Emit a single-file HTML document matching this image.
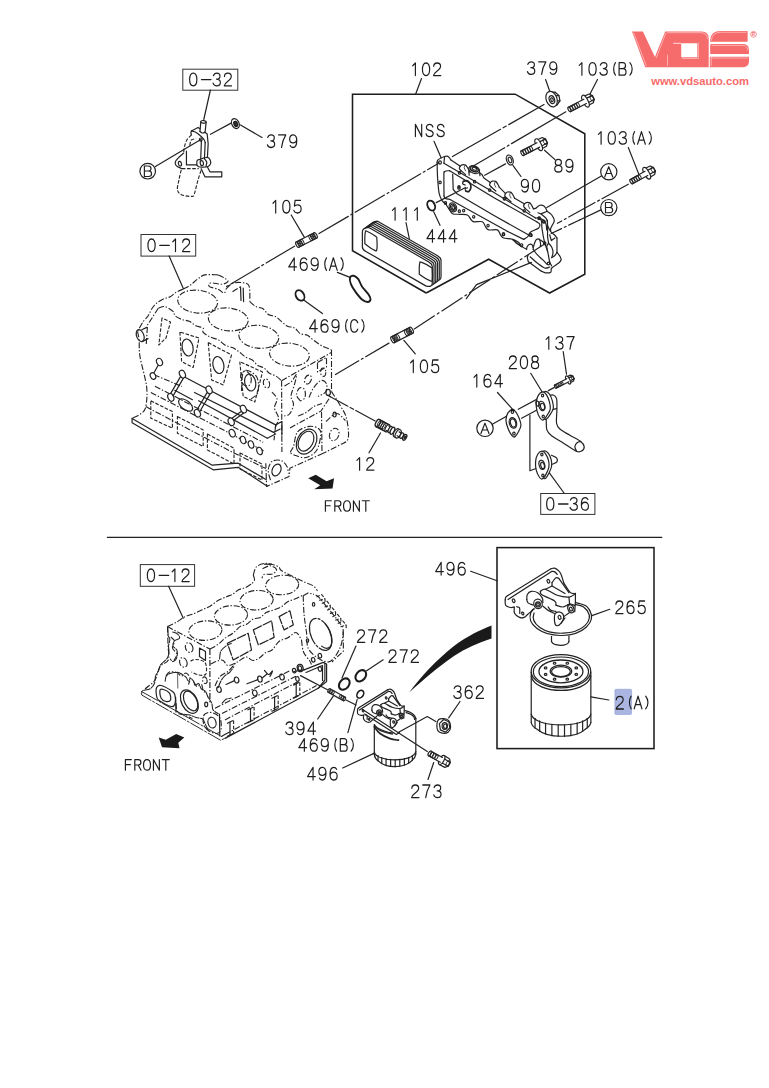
<!DOCTYPE html>
<html><head><meta charset="utf-8"><title>diagram</title>
<style>
html,body{margin:0;padding:0;background:#fff;}
body{width:769px;height:1088px;overflow:hidden;font-family:"Liberation Sans",sans-serif;}
svg{display:block}
.l{fill:none;stroke:#222;stroke-width:1.2;stroke-linecap:round;stroke-linejoin:round}
.w{fill:#fff;stroke:#222;stroke-width:1.2;stroke-linecap:round;stroke-linejoin:round}
.h{fill:none;stroke:#1c1c1c;stroke-width:1.9;stroke-linecap:round;stroke-linejoin:round}
.p{fill:none;stroke:#242424;stroke-width:1.12;stroke-dasharray:6 1.8 1.4 1.8;stroke-linejoin:round}
.d{fill:none;stroke:#242424;stroke-width:1.12;stroke-dasharray:3.6 1.6;stroke-linejoin:round}
.c{fill:none;stroke:#262626;stroke-width:1;stroke-dasharray:26 3 2 3}
.b{fill:none;stroke:#1c1c1c;stroke-width:1.55}
.bx{fill:none;stroke:#333;stroke-width:1}
.t{fill:none;stroke:#1e1e1e;stroke-linecap:round;stroke-linejoin:round}
.k{fill:#1a1a1a;stroke:none}
</style></head><body>
<svg width="769" height="1088" viewBox="0 0 769 1088">
<path fill="#f66b6b" fill-rule="evenodd" d="M632,31.5 L642.9,31.5 L654.9,56.9 L665.2,31.5 L701.5,31.5 Q708.7,31.5 708.7,38.7 L708.7,67.3 L645.2,67.3 Z M681.2,43.3 L697.3,43.3 L697.3,57.3 L681.2,57.3 Z"/>
<path fill="#f66b6b" d="M747.6,31 L747.6,41.8 L710.2,41.8 L710.2,40 Q710.6,31 720.5,31 Z"/>
<path fill="#f66b6b" d="M711.2,44.1 L743.5,44.1 Q749,44.6 749,50.5 L749,54 L710.2,54 L710.2,45.1 Q710.2,44.1 711.2,44.1 Z"/>
<path fill="#f66b6b" d="M709.8,56.8 L749,56.8 L749,61.8 Q748.6,67.2 743,67.2 L709.8,67.2 Z"/>
<g fill="none" stroke="#fff" stroke-width=".55" stroke-opacity=".85"><path d="M633.6,32.8 L646.4,66"/><path d="M665.9,32.9 L656.1,58.2"/><path d="M667.5,54.6 L667.5,66.2"/><path d="M673.2,43.3 L681.2,43.3" stroke-width=".9"/><path d="M698.4,42.4 L698.4,58.4 L682,58.4"/><path d="M667,32.7 L701,32.7 Q707.4,33 707.5,39"/><path d="M711.4,40.6 Q711.8,32.4 720.5,32.3 L746.4,32.3"/><path d="M711.4,45.4 L743,45.4 Q747.6,45.8 747.8,50.5"/><path d="M711,58 L747.8,58"/><path d="M711.2,56.4 L711.2,66"/></g>
<circle cx="753.5" cy="34.3" r="2.9" fill="none" stroke="#f66b6b" stroke-width=".7"/>
<text x="753.5" y="36.0" font-size="4.6" font-weight="bold" text-anchor="middle" fill="#f66b6b" font-family="Liberation Sans, sans-serif">R</text>
<text x="651.2" y="84.6" font-size="11.4" font-weight="bold" fill="#f66b6b" textLength="97.8" lengthAdjust="spacingAndGlyphs" font-family="Liberation Sans, sans-serif">www.vdsauto.com</text>
<rect class="bx" x="182.8" y="69.2" width="55.0" height="21"/>
<g class="t" style="stroke-width:1.3"><path transform="translate(189.20,73.20) scale(0.900,0.969)" d="M4.5,0 C1.8,0 0.5,2.6 0.5,6.5 C0.5,10.4 1.8,13 4.5,13 C7.2,13 8.5,10.4 8.5,6.5 C8.5,2.6 7.2,0 4.5,0 Z"/><path transform="translate(200.30,73.20) scale(0.900,0.969)" d="M1.3,6.6 L11.9,6.6"/><path transform="translate(212.70,73.20) scale(0.900,0.969)" d="M0.8,2.6 C1.4,0.9 2.8,0 4.5,0 C6.7,0 8.1,1.3 8.1,3.1 C8.1,5 6.6,6.1 4.2,6.1 C6.9,6.1 8.5,7.4 8.5,9.5 C8.5,11.6 6.9,13 4.5,13 C2.4,13 1,12 0.4,10.2"/><path transform="translate(223.80,73.20) scale(0.900,0.969)" d="M0.7,3.4 C0.8,1.2 2.4,0 4.5,0 C6.8,0 8.3,1.4 8.3,3.4 C8.3,5.6 6.6,6.9 4.2,8.6 C2,10.2 0.8,11.4 0.5,13 L8.6,13"/></g>
<g class="t" style="stroke-width:1.3"><path transform="translate(267.00,134.90) scale(0.900,0.969)" d="M0.8,2.6 C1.4,0.9 2.8,0 4.5,0 C6.7,0 8.1,1.3 8.1,3.1 C8.1,5 6.6,6.1 4.2,6.1 C6.9,6.1 8.5,7.4 8.5,9.5 C8.5,11.6 6.9,13 4.5,13 C2.4,13 1,12 0.4,10.2"/><path transform="translate(278.10,134.90) scale(0.900,0.969)" d="M0.5,0 L8.5,0 C6,4 4.2,8.5 3.8,13"/><path transform="translate(289.20,134.90) scale(0.900,0.969)" d="M1.1,11 C1.7,12.3 2.8,13 4.2,13 C7,13 8.4,10.4 8.4,6 C8.4,2 7,0 4.4,0 C2,0 0.5,1.7 0.5,4.2 C0.5,6.6 2,8.2 4.3,8.2 C6.4,8.2 8.1,6.7 8.4,4.6"/></g>
<g class="t" style="stroke-width:1.3"><path transform="translate(410.90,63.00) scale(0.900,0.969)" d="M2.0,2.9 L5.0,0 L5.0,13"/><path transform="translate(422.00,63.00) scale(0.900,0.969)" d="M4.5,0 C1.8,0 0.5,2.6 0.5,6.5 C0.5,10.4 1.8,13 4.5,13 C7.2,13 8.5,10.4 8.5,6.5 C8.5,2.6 7.2,0 4.5,0 Z"/><path transform="translate(433.10,63.00) scale(0.900,0.969)" d="M0.7,3.4 C0.8,1.2 2.4,0 4.5,0 C6.8,0 8.3,1.4 8.3,3.4 C8.3,5.6 6.6,6.9 4.2,8.6 C2,10.2 0.8,11.4 0.5,13 L8.6,13"/></g>
<g class="t" style="stroke-width:1.3"><path transform="translate(527.10,61.80) scale(0.900,0.969)" d="M0.8,2.6 C1.4,0.9 2.8,0 4.5,0 C6.7,0 8.1,1.3 8.1,3.1 C8.1,5 6.6,6.1 4.2,6.1 C6.9,6.1 8.5,7.4 8.5,9.5 C8.5,11.6 6.9,13 4.5,13 C2.4,13 1,12 0.4,10.2"/><path transform="translate(538.20,61.80) scale(0.900,0.969)" d="M0.5,0 L8.5,0 C6,4 4.2,8.5 3.8,13"/><path transform="translate(549.30,61.80) scale(0.900,0.969)" d="M1.1,11 C1.7,12.3 2.8,13 4.2,13 C7,13 8.4,10.4 8.4,6 C8.4,2 7,0 4.4,0 C2,0 0.5,1.7 0.5,4.2 C0.5,6.6 2,8.2 4.3,8.2 C6.4,8.2 8.1,6.7 8.4,4.6"/></g>
<g class="t" style="stroke-width:1.3"><path transform="translate(577.40,62.60) scale(0.900,0.969)" d="M2.0,2.9 L5.0,0 L5.0,13"/><path transform="translate(588.50,62.60) scale(0.900,0.969)" d="M4.5,0 C1.8,0 0.5,2.6 0.5,6.5 C0.5,10.4 1.8,13 4.5,13 C7.2,13 8.5,10.4 8.5,6.5 C8.5,2.6 7.2,0 4.5,0 Z"/><path transform="translate(599.60,62.60) scale(0.900,0.969)" d="M0.8,2.6 C1.4,0.9 2.8,0 4.5,0 C6.7,0 8.1,1.3 8.1,3.1 C8.1,5 6.6,6.1 4.2,6.1 C6.9,6.1 8.5,7.4 8.5,9.5 C8.5,11.6 6.9,13 4.5,13 C2.4,13 1,12 0.4,10.2"/><path transform="translate(610.70,62.60) scale(0.900,0.969)" d="M5.2,0 C2.65,3.6 2.65,9.4 5.2,13"/><path transform="translate(618.20,62.60) scale(0.900,0.969)" d="M1,0 L1,13 L5.4,13 C7.6,13 8.7,11.6 8.7,9.6 C8.7,7.6 7.5,6.3 5.4,6.3 L1,6.3 M5.4,6.3 C7.2,6.3 8.1,5 8.1,3.1 C8.1,1.2 7.1,0 5.2,0 L1,0"/><path transform="translate(629.30,62.60) scale(0.900,0.969)" d="M0.7,0 C4.0,3.6 4.0,9.4 0.7,13"/></g>
<g class="t" style="stroke-width:1.3"><path transform="translate(414.50,124.40) scale(0.900,0.938)" d="M1,13 L1,0 L8,13 L8,0"/><path transform="translate(425.60,124.40) scale(0.900,0.938)" d="M8.1,2.8 C7.5,1 6.3,0 4.5,0 C2.3,0 0.9,1.3 0.9,3.2 C0.9,5.2 2.2,5.9 4.5,6.4 C7,7 8.4,7.8 8.4,9.8 C8.4,11.8 7,13 4.5,13 C2.4,13 1,12 0.5,10"/><path transform="translate(436.70,124.40) scale(0.900,0.938)" d="M8.1,2.8 C7.5,1 6.3,0 4.5,0 C2.3,0 0.9,1.3 0.9,3.2 C0.9,5.2 2.2,5.9 4.5,6.4 C7,7 8.4,7.8 8.4,9.8 C8.4,11.8 7,13 4.5,13 C2.4,13 1,12 0.5,10"/></g>
<g class="t" style="stroke-width:1.3"><path transform="translate(554.30,159.40) scale(0.900,0.969)" d="M4.5,0 C2.4,0 1.1,1.3 1.1,3.1 C1.1,4.9 2.4,6.1 4.5,6.1 C6.6,6.1 7.9,4.9 7.9,3.1 C7.9,1.3 6.6,0 4.5,0 Z M4.5,6.1 C2.1,6.1 0.5,7.5 0.5,9.6 C0.5,11.7 2.1,13 4.5,13 C6.9,13 8.5,11.7 8.5,9.6 C8.5,7.5 6.9,6.1 4.5,6.1 Z"/><path transform="translate(565.40,159.40) scale(0.900,0.969)" d="M1.1,11 C1.7,12.3 2.8,13 4.2,13 C7,13 8.4,10.4 8.4,6 C8.4,2 7,0 4.4,0 C2,0 0.5,1.7 0.5,4.2 C0.5,6.6 2,8.2 4.3,8.2 C6.4,8.2 8.1,6.7 8.4,4.6"/></g>
<g class="t" style="stroke-width:1.3"><path transform="translate(520.90,179.40) scale(0.900,0.969)" d="M1.1,11 C1.7,12.3 2.8,13 4.2,13 C7,13 8.4,10.4 8.4,6 C8.4,2 7,0 4.4,0 C2,0 0.5,1.7 0.5,4.2 C0.5,6.6 2,8.2 4.3,8.2 C6.4,8.2 8.1,6.7 8.4,4.6"/><path transform="translate(532.00,179.40) scale(0.900,0.969)" d="M4.5,0 C1.8,0 0.5,2.6 0.5,6.5 C0.5,10.4 1.8,13 4.5,13 C7.2,13 8.5,10.4 8.5,6.5 C8.5,2.6 7.2,0 4.5,0 Z"/></g>
<g class="t" style="stroke-width:1.3"><path transform="translate(596.60,131.60) scale(0.900,0.969)" d="M2.0,2.9 L5.0,0 L5.0,13"/><path transform="translate(607.70,131.60) scale(0.900,0.969)" d="M4.5,0 C1.8,0 0.5,2.6 0.5,6.5 C0.5,10.4 1.8,13 4.5,13 C7.2,13 8.5,10.4 8.5,6.5 C8.5,2.6 7.2,0 4.5,0 Z"/><path transform="translate(618.80,131.60) scale(0.900,0.969)" d="M0.8,2.6 C1.4,0.9 2.8,0 4.5,0 C6.7,0 8.1,1.3 8.1,3.1 C8.1,5 6.6,6.1 4.2,6.1 C6.9,6.1 8.5,7.4 8.5,9.5 C8.5,11.6 6.9,13 4.5,13 C2.4,13 1,12 0.4,10.2"/><path transform="translate(629.90,131.60) scale(0.900,0.969)" d="M5.2,0 C2.65,3.6 2.65,9.4 5.2,13"/><path transform="translate(637.40,131.60) scale(0.900,0.969)" d="M0.2,13 L4.5,0 L8.8,13 M1.7,8.7 L7.3,8.7"/><path transform="translate(648.50,131.60) scale(0.900,0.969)" d="M0.7,0 C4.0,3.6 4.0,9.4 0.7,13"/></g>
<g class="t" style="stroke-width:1.3"><path transform="translate(426.70,229.60) scale(0.900,0.969)" d="M6.4,13 L6.4,0 L0.3,9.4 L8.9,9.4"/><path transform="translate(437.80,229.60) scale(0.900,0.969)" d="M6.4,13 L6.4,0 L0.3,9.4 L8.9,9.4"/><path transform="translate(448.90,229.60) scale(0.900,0.969)" d="M6.4,13 L6.4,0 L0.3,9.4 L8.9,9.4"/></g>
<g class="t" style="stroke-width:1.3"><path transform="translate(390.60,207.60) scale(0.900,0.969)" d="M2.0,2.9 L5.0,0 L5.0,13"/><path transform="translate(401.70,207.60) scale(0.900,0.969)" d="M2.0,2.9 L5.0,0 L5.0,13"/><path transform="translate(412.80,207.60) scale(0.900,0.969)" d="M2.0,2.9 L5.0,0 L5.0,13"/></g>
<g class="t" style="stroke-width:1.3"><path transform="translate(271.20,200.40) scale(0.900,0.969)" d="M2.0,2.9 L5.0,0 L5.0,13"/><path transform="translate(282.30,200.40) scale(0.900,0.969)" d="M4.5,0 C1.8,0 0.5,2.6 0.5,6.5 C0.5,10.4 1.8,13 4.5,13 C7.2,13 8.5,10.4 8.5,6.5 C8.5,2.6 7.2,0 4.5,0 Z"/><path transform="translate(293.40,200.40) scale(0.900,0.969)" d="M7.9,0 L1.9,0 L1.1,5.9 C2,5 3.2,4.5 4.6,4.5 C7,4.5 8.6,6.2 8.6,8.7 C8.6,11.3 7,13 4.5,13 C2.6,13 1.1,12 0.5,10.3"/></g>
<g class="t" style="stroke-width:1.3"><path transform="translate(288.50,257.80) scale(0.900,0.969)" d="M6.4,13 L6.4,0 L0.3,9.4 L8.9,9.4"/><path transform="translate(299.60,257.80) scale(0.900,0.969)" d="M7.9,2 C7.3,0.7 6.2,0 4.8,0 C2,0 0.6,2.6 0.6,7 C0.6,11 2,13 4.6,13 C7,13 8.5,11.3 8.5,8.8 C8.5,6.4 7,4.8 4.7,4.8 C2.6,4.8 0.9,6.3 0.6,8.4"/><path transform="translate(310.70,257.80) scale(0.900,0.969)" d="M1.1,11 C1.7,12.3 2.8,13 4.2,13 C7,13 8.4,10.4 8.4,6 C8.4,2 7,0 4.4,0 C2,0 0.5,1.7 0.5,4.2 C0.5,6.6 2,8.2 4.3,8.2 C6.4,8.2 8.1,6.7 8.4,4.6"/><path transform="translate(321.80,257.80) scale(0.900,0.969)" d="M5.2,0 C2.65,3.6 2.65,9.4 5.2,13"/><path transform="translate(329.30,257.80) scale(0.900,0.969)" d="M0.2,13 L4.5,0 L8.8,13 M1.7,8.7 L7.3,8.7"/><path transform="translate(340.40,257.80) scale(0.900,0.969)" d="M0.7,0 C4.0,3.6 4.0,9.4 0.7,13"/></g>
<g class="t" style="stroke-width:1.3"><path transform="translate(309.30,319.60) scale(0.900,0.969)" d="M6.4,13 L6.4,0 L0.3,9.4 L8.9,9.4"/><path transform="translate(320.40,319.60) scale(0.900,0.969)" d="M7.9,2 C7.3,0.7 6.2,0 4.8,0 C2,0 0.6,2.6 0.6,7 C0.6,11 2,13 4.6,13 C7,13 8.5,11.3 8.5,8.8 C8.5,6.4 7,4.8 4.7,4.8 C2.6,4.8 0.9,6.3 0.6,8.4"/><path transform="translate(331.50,319.60) scale(0.900,0.969)" d="M1.1,11 C1.7,12.3 2.8,13 4.2,13 C7,13 8.4,10.4 8.4,6 C8.4,2 7,0 4.4,0 C2,0 0.5,1.7 0.5,4.2 C0.5,6.6 2,8.2 4.3,8.2 C6.4,8.2 8.1,6.7 8.4,4.6"/><path transform="translate(342.60,319.60) scale(0.900,0.969)" d="M5.2,0 C2.65,3.6 2.65,9.4 5.2,13"/><path transform="translate(350.10,319.60) scale(0.900,0.969)" d="M8.5,3.2 C7.8,1.1 6.5,0 4.8,0 C2,0 0.6,2.5 0.6,6.5 C0.6,10.5 2,13 4.8,13 C6.5,13 7.8,11.9 8.5,9.8"/><path transform="translate(361.20,319.60) scale(0.900,0.969)" d="M0.7,0 C4.0,3.6 4.0,9.4 0.7,13"/></g>
<g class="t" style="stroke-width:1.3"><path transform="translate(408.80,360.00) scale(0.900,0.969)" d="M2.0,2.9 L5.0,0 L5.0,13"/><path transform="translate(419.90,360.00) scale(0.900,0.969)" d="M4.5,0 C1.8,0 0.5,2.6 0.5,6.5 C0.5,10.4 1.8,13 4.5,13 C7.2,13 8.5,10.4 8.5,6.5 C8.5,2.6 7.2,0 4.5,0 Z"/><path transform="translate(431.00,360.00) scale(0.900,0.969)" d="M7.9,0 L1.9,0 L1.1,5.9 C2,5 3.2,4.5 4.6,4.5 C7,4.5 8.6,6.2 8.6,8.7 C8.6,11.3 7,13 4.5,13 C2.6,13 1.1,12 0.5,10.3"/></g>
<rect class="bx" x="141" y="234.5" width="54.7" height="21.6"/>
<g class="t" style="stroke-width:1.3"><path transform="translate(147.50,239.00) scale(0.900,0.969)" d="M4.5,0 C1.8,0 0.5,2.6 0.5,6.5 C0.5,10.4 1.8,13 4.5,13 C7.2,13 8.5,10.4 8.5,6.5 C8.5,2.6 7.2,0 4.5,0 Z"/><path transform="translate(158.60,239.00) scale(0.900,0.969)" d="M1.3,6.6 L11.9,6.6"/><path transform="translate(171.00,239.00) scale(0.900,0.969)" d="M2.0,2.9 L5.0,0 L5.0,13"/><path transform="translate(182.10,239.00) scale(0.900,0.969)" d="M0.7,3.4 C0.8,1.2 2.4,0 4.5,0 C6.8,0 8.3,1.4 8.3,3.4 C8.3,5.6 6.6,6.9 4.2,8.6 C2,10.2 0.8,11.4 0.5,13 L8.6,13"/></g>
<g class="t" style="stroke-width:1.3"><path transform="translate(355.10,457.60) scale(0.900,0.969)" d="M2.0,2.9 L5.0,0 L5.0,13"/><path transform="translate(366.20,457.60) scale(0.900,0.969)" d="M0.7,3.4 C0.8,1.2 2.4,0 4.5,0 C6.8,0 8.3,1.4 8.3,3.4 C8.3,5.6 6.6,6.9 4.2,8.6 C2,10.2 0.8,11.4 0.5,13 L8.6,13"/></g>
<g class="t" style="stroke-width:1.4"><path transform="translate(324.40,500.70) scale(0.844,0.815)" d="M1.2,13 L1.2,0 L8.3,0 M1.2,6.2 L7,6.2"/><path transform="translate(333.80,500.70) scale(0.844,0.815)" d="M1.2,13 L1.2,0 L5.4,0 C7.5,0 8.4,1.4 8.4,3.3 C8.4,5.2 7.5,6.6 5.4,6.6 L1.2,6.6 M5.2,6.6 L8.6,13"/><path transform="translate(343.20,500.70) scale(0.844,0.815)" d="M4.5,0 C1.6,0 0.4,2.6 0.4,6.5 C0.4,10.4 1.6,13 4.5,13 C7.4,13 8.6,10.4 8.6,6.5 C8.6,2.6 7.4,0 4.5,0 Z"/><path transform="translate(352.60,500.70) scale(0.844,0.815)" d="M1,13 L1,0 L8,13 L8,0"/><path transform="translate(362.00,500.70) scale(0.844,0.815)" d="M0.3,0 L8.7,0 M4.5,0 L4.5,13"/></g>
<g class="t" style="stroke-width:1.3"><path transform="translate(544.30,336.60) scale(0.900,0.969)" d="M2.0,2.9 L5.0,0 L5.0,13"/><path transform="translate(555.40,336.60) scale(0.900,0.969)" d="M0.8,2.6 C1.4,0.9 2.8,0 4.5,0 C6.7,0 8.1,1.3 8.1,3.1 C8.1,5 6.6,6.1 4.2,6.1 C6.9,6.1 8.5,7.4 8.5,9.5 C8.5,11.6 6.9,13 4.5,13 C2.4,13 1,12 0.4,10.2"/><path transform="translate(566.50,336.60) scale(0.900,0.969)" d="M0.5,0 L8.5,0 C6,4 4.2,8.5 3.8,13"/></g>
<g class="t" style="stroke-width:1.3"><path transform="translate(508.80,356.00) scale(0.900,0.969)" d="M0.7,3.4 C0.8,1.2 2.4,0 4.5,0 C6.8,0 8.3,1.4 8.3,3.4 C8.3,5.6 6.6,6.9 4.2,8.6 C2,10.2 0.8,11.4 0.5,13 L8.6,13"/><path transform="translate(519.90,356.00) scale(0.900,0.969)" d="M4.5,0 C1.8,0 0.5,2.6 0.5,6.5 C0.5,10.4 1.8,13 4.5,13 C7.2,13 8.5,10.4 8.5,6.5 C8.5,2.6 7.2,0 4.5,0 Z"/><path transform="translate(531.00,356.00) scale(0.900,0.969)" d="M4.5,0 C2.4,0 1.1,1.3 1.1,3.1 C1.1,4.9 2.4,6.1 4.5,6.1 C6.6,6.1 7.9,4.9 7.9,3.1 C7.9,1.3 6.6,0 4.5,0 Z M4.5,6.1 C2.1,6.1 0.5,7.5 0.5,9.6 C0.5,11.7 2.1,13 4.5,13 C6.9,13 8.5,11.7 8.5,9.6 C8.5,7.5 6.9,6.1 4.5,6.1 Z"/></g>
<g class="t" style="stroke-width:1.3"><path transform="translate(472.30,374.40) scale(0.900,0.969)" d="M2.0,2.9 L5.0,0 L5.0,13"/><path transform="translate(483.40,374.40) scale(0.900,0.969)" d="M7.9,2 C7.3,0.7 6.2,0 4.8,0 C2,0 0.6,2.6 0.6,7 C0.6,11 2,13 4.6,13 C7,13 8.5,11.3 8.5,8.8 C8.5,6.4 7,4.8 4.7,4.8 C2.6,4.8 0.9,6.3 0.6,8.4"/><path transform="translate(494.50,374.40) scale(0.900,0.969)" d="M6.4,13 L6.4,0 L0.3,9.4 L8.9,9.4"/></g>
<rect class="bx" x="540.7" y="493.5" width="54.2" height="20.9"/>
<g class="t" style="stroke-width:1.3"><path transform="translate(546.20,497.60) scale(0.900,0.969)" d="M4.5,0 C1.8,0 0.5,2.6 0.5,6.5 C0.5,10.4 1.8,13 4.5,13 C7.2,13 8.5,10.4 8.5,6.5 C8.5,2.6 7.2,0 4.5,0 Z"/><path transform="translate(557.30,497.60) scale(0.900,0.969)" d="M1.3,6.6 L11.9,6.6"/><path transform="translate(569.70,497.60) scale(0.900,0.969)" d="M0.8,2.6 C1.4,0.9 2.8,0 4.5,0 C6.7,0 8.1,1.3 8.1,3.1 C8.1,5 6.6,6.1 4.2,6.1 C6.9,6.1 8.5,7.4 8.5,9.5 C8.5,11.6 6.9,13 4.5,13 C2.4,13 1,12 0.4,10.2"/><path transform="translate(580.80,497.60) scale(0.900,0.969)" d="M7.9,2 C7.3,0.7 6.2,0 4.8,0 C2,0 0.6,2.6 0.6,7 C0.6,11 2,13 4.6,13 C7,13 8.5,11.3 8.5,8.8 C8.5,6.4 7,4.8 4.7,4.8 C2.6,4.8 0.9,6.3 0.6,8.4"/></g>
<path class="l" d="M107.4,537.4 L661.8,537.4"/>
<rect class="bx" x="140.3" y="564.6" width="54.3" height="21.7"/>
<g class="t" style="stroke-width:1.3"><path transform="translate(146.90,569.00) scale(0.900,0.969)" d="M4.5,0 C1.8,0 0.5,2.6 0.5,6.5 C0.5,10.4 1.8,13 4.5,13 C7.2,13 8.5,10.4 8.5,6.5 C8.5,2.6 7.2,0 4.5,0 Z"/><path transform="translate(158.00,569.00) scale(0.900,0.969)" d="M1.3,6.6 L11.9,6.6"/><path transform="translate(170.40,569.00) scale(0.900,0.969)" d="M2.0,2.9 L5.0,0 L5.0,13"/><path transform="translate(181.50,569.00) scale(0.900,0.969)" d="M0.7,3.4 C0.8,1.2 2.4,0 4.5,0 C6.8,0 8.3,1.4 8.3,3.4 C8.3,5.6 6.6,6.9 4.2,8.6 C2,10.2 0.8,11.4 0.5,13 L8.6,13"/></g>
<g class="t" style="stroke-width:1.3"><path transform="translate(435.40,562.40) scale(0.900,0.969)" d="M6.4,13 L6.4,0 L0.3,9.4 L8.9,9.4"/><path transform="translate(446.50,562.40) scale(0.900,0.969)" d="M1.1,11 C1.7,12.3 2.8,13 4.2,13 C7,13 8.4,10.4 8.4,6 C8.4,2 7,0 4.4,0 C2,0 0.5,1.7 0.5,4.2 C0.5,6.6 2,8.2 4.3,8.2 C6.4,8.2 8.1,6.7 8.4,4.6"/><path transform="translate(457.60,562.40) scale(0.900,0.969)" d="M7.9,2 C7.3,0.7 6.2,0 4.8,0 C2,0 0.6,2.6 0.6,7 C0.6,11 2,13 4.6,13 C7,13 8.5,11.3 8.5,8.8 C8.5,6.4 7,4.8 4.7,4.8 C2.6,4.8 0.9,6.3 0.6,8.4"/></g>
<g class="t" style="stroke-width:1.3"><path transform="translate(615.30,601.00) scale(0.900,0.969)" d="M0.7,3.4 C0.8,1.2 2.4,0 4.5,0 C6.8,0 8.3,1.4 8.3,3.4 C8.3,5.6 6.6,6.9 4.2,8.6 C2,10.2 0.8,11.4 0.5,13 L8.6,13"/><path transform="translate(626.40,601.00) scale(0.900,0.969)" d="M7.9,2 C7.3,0.7 6.2,0 4.8,0 C2,0 0.6,2.6 0.6,7 C0.6,11 2,13 4.6,13 C7,13 8.5,11.3 8.5,8.8 C8.5,6.4 7,4.8 4.7,4.8 C2.6,4.8 0.9,6.3 0.6,8.4"/><path transform="translate(637.50,601.00) scale(0.900,0.969)" d="M7.9,0 L1.9,0 L1.1,5.9 C2,5 3.2,4.5 4.6,4.5 C7,4.5 8.6,6.2 8.6,8.7 C8.6,11.3 7,13 4.5,13 C2.6,13 1.1,12 0.5,10.3"/></g>
<rect x="614.9" y="689.3" width="16.7" height="25.2" rx="1.2" fill="#aab5e1" stroke="#98a4d6" stroke-width=".7"/>
<g class="t" style="stroke-width:1.3"><path transform="translate(615.70,696.40) scale(0.900,0.969)" d="M0.7,3.4 C0.8,1.2 2.4,0 4.5,0 C6.8,0 8.3,1.4 8.3,3.4 C8.3,5.6 6.6,6.9 4.2,8.6 C2,10.2 0.8,11.4 0.5,13 L8.6,13"/></g>
<g class="t" style="stroke-width:1.3"><path transform="translate(626.50,696.20) scale(0.900,0.969)" d="M5.2,0 C2.65,3.6 2.65,9.4 5.2,13"/><path transform="translate(634.00,696.20) scale(0.900,0.969)" d="M0.2,13 L4.5,0 L8.8,13 M1.7,8.7 L7.3,8.7"/><path transform="translate(645.10,696.20) scale(0.900,0.969)" d="M0.7,0 C4.0,3.6 4.0,9.4 0.7,13"/></g>
<g class="t" style="stroke-width:1.3"><path transform="translate(357.00,629.80) scale(0.900,0.969)" d="M0.7,3.4 C0.8,1.2 2.4,0 4.5,0 C6.8,0 8.3,1.4 8.3,3.4 C8.3,5.6 6.6,6.9 4.2,8.6 C2,10.2 0.8,11.4 0.5,13 L8.6,13"/><path transform="translate(368.10,629.80) scale(0.900,0.969)" d="M0.5,0 L8.5,0 C6,4 4.2,8.5 3.8,13"/><path transform="translate(379.20,629.80) scale(0.900,0.969)" d="M0.7,3.4 C0.8,1.2 2.4,0 4.5,0 C6.8,0 8.3,1.4 8.3,3.4 C8.3,5.6 6.6,6.9 4.2,8.6 C2,10.2 0.8,11.4 0.5,13 L8.6,13"/></g>
<g class="t" style="stroke-width:1.3"><path transform="translate(388.50,649.80) scale(0.900,0.969)" d="M0.7,3.4 C0.8,1.2 2.4,0 4.5,0 C6.8,0 8.3,1.4 8.3,3.4 C8.3,5.6 6.6,6.9 4.2,8.6 C2,10.2 0.8,11.4 0.5,13 L8.6,13"/><path transform="translate(399.60,649.80) scale(0.900,0.969)" d="M0.5,0 L8.5,0 C6,4 4.2,8.5 3.8,13"/><path transform="translate(410.70,649.80) scale(0.900,0.969)" d="M0.7,3.4 C0.8,1.2 2.4,0 4.5,0 C6.8,0 8.3,1.4 8.3,3.4 C8.3,5.6 6.6,6.9 4.2,8.6 C2,10.2 0.8,11.4 0.5,13 L8.6,13"/></g>
<g class="t" style="stroke-width:1.3"><path transform="translate(453.50,685.80) scale(0.900,0.969)" d="M0.8,2.6 C1.4,0.9 2.8,0 4.5,0 C6.7,0 8.1,1.3 8.1,3.1 C8.1,5 6.6,6.1 4.2,6.1 C6.9,6.1 8.5,7.4 8.5,9.5 C8.5,11.6 6.9,13 4.5,13 C2.4,13 1,12 0.4,10.2"/><path transform="translate(464.60,685.80) scale(0.900,0.969)" d="M7.9,2 C7.3,0.7 6.2,0 4.8,0 C2,0 0.6,2.6 0.6,7 C0.6,11 2,13 4.6,13 C7,13 8.5,11.3 8.5,8.8 C8.5,6.4 7,4.8 4.7,4.8 C2.6,4.8 0.9,6.3 0.6,8.4"/><path transform="translate(475.70,685.80) scale(0.900,0.969)" d="M0.7,3.4 C0.8,1.2 2.4,0 4.5,0 C6.8,0 8.3,1.4 8.3,3.4 C8.3,5.6 6.6,6.9 4.2,8.6 C2,10.2 0.8,11.4 0.5,13 L8.6,13"/></g>
<g class="t" style="stroke-width:1.3"><path transform="translate(285.40,722.00) scale(0.900,0.969)" d="M0.8,2.6 C1.4,0.9 2.8,0 4.5,0 C6.7,0 8.1,1.3 8.1,3.1 C8.1,5 6.6,6.1 4.2,6.1 C6.9,6.1 8.5,7.4 8.5,9.5 C8.5,11.6 6.9,13 4.5,13 C2.4,13 1,12 0.4,10.2"/><path transform="translate(296.50,722.00) scale(0.900,0.969)" d="M1.1,11 C1.7,12.3 2.8,13 4.2,13 C7,13 8.4,10.4 8.4,6 C8.4,2 7,0 4.4,0 C2,0 0.5,1.7 0.5,4.2 C0.5,6.6 2,8.2 4.3,8.2 C6.4,8.2 8.1,6.7 8.4,4.6"/><path transform="translate(307.60,722.00) scale(0.900,0.969)" d="M6.4,13 L6.4,0 L0.3,9.4 L8.9,9.4"/></g>
<g class="t" style="stroke-width:1.3"><path transform="translate(298.60,738.60) scale(0.900,0.969)" d="M6.4,13 L6.4,0 L0.3,9.4 L8.9,9.4"/><path transform="translate(309.70,738.60) scale(0.900,0.969)" d="M7.9,2 C7.3,0.7 6.2,0 4.8,0 C2,0 0.6,2.6 0.6,7 C0.6,11 2,13 4.6,13 C7,13 8.5,11.3 8.5,8.8 C8.5,6.4 7,4.8 4.7,4.8 C2.6,4.8 0.9,6.3 0.6,8.4"/><path transform="translate(320.80,738.60) scale(0.900,0.969)" d="M1.1,11 C1.7,12.3 2.8,13 4.2,13 C7,13 8.4,10.4 8.4,6 C8.4,2 7,0 4.4,0 C2,0 0.5,1.7 0.5,4.2 C0.5,6.6 2,8.2 4.3,8.2 C6.4,8.2 8.1,6.7 8.4,4.6"/><path transform="translate(331.90,738.60) scale(0.900,0.969)" d="M5.2,0 C2.65,3.6 2.65,9.4 5.2,13"/><path transform="translate(339.40,738.60) scale(0.900,0.969)" d="M1,0 L1,13 L5.4,13 C7.6,13 8.7,11.6 8.7,9.6 C8.7,7.6 7.5,6.3 5.4,6.3 L1,6.3 M5.4,6.3 C7.2,6.3 8.1,5 8.1,3.1 C8.1,1.2 7.1,0 5.2,0 L1,0"/><path transform="translate(350.50,738.60) scale(0.900,0.969)" d="M0.7,0 C4.0,3.6 4.0,9.4 0.7,13"/></g>
<g class="t" style="stroke-width:1.3"><path transform="translate(307.30,767.40) scale(0.900,0.969)" d="M6.4,13 L6.4,0 L0.3,9.4 L8.9,9.4"/><path transform="translate(318.40,767.40) scale(0.900,0.969)" d="M1.1,11 C1.7,12.3 2.8,13 4.2,13 C7,13 8.4,10.4 8.4,6 C8.4,2 7,0 4.4,0 C2,0 0.5,1.7 0.5,4.2 C0.5,6.6 2,8.2 4.3,8.2 C6.4,8.2 8.1,6.7 8.4,4.6"/><path transform="translate(329.50,767.40) scale(0.900,0.969)" d="M7.9,2 C7.3,0.7 6.2,0 4.8,0 C2,0 0.6,2.6 0.6,7 C0.6,11 2,13 4.6,13 C7,13 8.5,11.3 8.5,8.8 C8.5,6.4 7,4.8 4.7,4.8 C2.6,4.8 0.9,6.3 0.6,8.4"/></g>
<g class="t" style="stroke-width:1.3"><path transform="translate(411.20,785.00) scale(0.900,0.969)" d="M0.7,3.4 C0.8,1.2 2.4,0 4.5,0 C6.8,0 8.3,1.4 8.3,3.4 C8.3,5.6 6.6,6.9 4.2,8.6 C2,10.2 0.8,11.4 0.5,13 L8.6,13"/><path transform="translate(422.30,785.00) scale(0.900,0.969)" d="M0.5,0 L8.5,0 C6,4 4.2,8.5 3.8,13"/><path transform="translate(433.40,785.00) scale(0.900,0.969)" d="M0.8,2.6 C1.4,0.9 2.8,0 4.5,0 C6.7,0 8.1,1.3 8.1,3.1 C8.1,5 6.6,6.1 4.2,6.1 C6.9,6.1 8.5,7.4 8.5,9.5 C8.5,11.6 6.9,13 4.5,13 C2.4,13 1,12 0.4,10.2"/></g>
<g class="t" style="stroke-width:1.4"><path transform="translate(124.40,759.60) scale(0.844,0.815)" d="M1.2,13 L1.2,0 L8.3,0 M1.2,6.2 L7,6.2"/><path transform="translate(133.80,759.60) scale(0.844,0.815)" d="M1.2,13 L1.2,0 L5.4,0 C7.5,0 8.4,1.4 8.4,3.3 C8.4,5.2 7.5,6.6 5.4,6.6 L1.2,6.6 M5.2,6.6 L8.6,13"/><path transform="translate(143.20,759.60) scale(0.844,0.815)" d="M4.5,0 C1.6,0 0.4,2.6 0.4,6.5 C0.4,10.4 1.6,13 4.5,13 C7.4,13 8.6,10.4 8.6,6.5 C8.6,2.6 7.4,0 4.5,0 Z"/><path transform="translate(152.60,759.60) scale(0.844,0.815)" d="M1,13 L1,0 L8,13 L8,0"/><path transform="translate(162.00,759.60) scale(0.844,0.815)" d="M0.3,0 L8.7,0 M4.5,0 L4.5,13"/></g>
<rect class="b" x="497.0" y="547.6" width="157.0" height="201.0"/>
<circle class="l" cx="147.7" cy="171.2" r="7.8"/>
<g class="t" style="stroke-width:1.25"><path transform="translate(143.45,166.00) scale(0.933,0.800)" d="M1,0 L1,13 L5.4,13 C7.6,13 8.7,11.6 8.7,9.6 C8.7,7.6 7.5,6.3 5.4,6.3 L1,6.3 M5.4,6.3 C7.2,6.3 8.1,5 8.1,3.1 C8.1,1.2 7.1,0 5.2,0 L1,0"/></g>
<circle class="l" cx="608.8" cy="171.8" r="8.1"/>
<g class="t" style="stroke-width:1.25"><path transform="translate(604.55,166.60) scale(0.933,0.800)" d="M0.2,13 L4.5,0 L8.8,13 M1.7,8.7 L7.3,8.7"/></g>
<circle class="l" cx="608.8" cy="207.6" r="8.1"/>
<g class="t" style="stroke-width:1.25"><path transform="translate(604.55,202.40) scale(0.933,0.800)" d="M1,0 L1,13 L5.4,13 C7.6,13 8.7,11.6 8.7,9.6 C8.7,7.6 7.5,6.3 5.4,6.3 L1,6.3 M5.4,6.3 C7.2,6.3 8.1,5 8.1,3.1 C8.1,1.2 7.1,0 5.2,0 L1,0"/></g>
<circle class="l" cx="485.0" cy="428.3" r="8.2"/>
<g class="t" style="stroke-width:1.25"><path transform="translate(480.75,423.10) scale(0.933,0.800)" d="M0.2,13 L4.5,0 L8.8,13 M1.7,8.7 L7.3,8.7"/></g>
<path class="l" d="M210.4,90 L203.8,119.5"/>
<path class="l" d="M155.4,166.6 L200.8,139.6"/>
<path class="l" d="M210.5,134.3 L232.0,122.6"/>
<path class="l" d="M240.5,125.0 L262.0,137.5"/>
<path class="l" d="M421.5,78.5 L415.7,94"/>
<path class="l" d="M434,141.3 L441.2,157.9"/>
<path class="l" d="M545.6,79.5 L549.9,91.7"/>
<path class="l" d="M597.5,79.5 L590,94"/>
<path class="l" d="M544.5,150.2 L555,159.6"/>
<path class="l" d="M512.9,165.4 L521,176.5"/>
<path class="l" d="M628.3,147.5 L638.6,173.6"/>
<path class="l" d="M601.8,175.8 L546.8,207.6"/>
<path class="l" d="M600.9,209.9 L579.6,220"/>
<path class="l" d="M433.7,211.8 L440,225.3"/>
<path class="l" d="M406,222.5 L409.3,238.7"/>
<path class="l" d="M291.2,215 L304.4,237.4"/>
<path class="l" d="M337.4,272.4 L350,277.4"/>
<path class="l" d="M303.7,300 L322.4,313.6"/>
<path class="l" d="M403.9,340.3 L415.3,353.9"/>
<path class="l" d="M169.1,256.1 L183.3,288.6"/>
<path class="l" d="M380.5,433 L369,452.8"/>
<path class="l" d="M563.2,351.5 L566.5,374.1"/>
<path class="l" d="M530.7,373.3 L544,395"/>
<path class="l" d="M497.5,392.5 L512.4,409.1"/>
<path class="l" d="M492.3,424.3 L507.4,415.8"/>
<path class="l" d="M549,472.3 L564,493"/>
<path class="l" d="M529.9,415 L529.9,470.7 L536.6,468.2" />
<path class="l" d="M168.6,586.3 L183.3,618.2"/>
<path class="l" d="M470.7,571.2 L497.1,580.7"/>
<path class="l" d="M609.8,609.3 L591.9,615.6"/>
<path class="l" d="M590.9,696.9 L608.8,700"/>
<path class="l" d="M356,646 L342,678"/>
<path class="l" d="M383.2,659.8 L366.6,670.8"/>
<path class="l" d="M357.2,699.3 L347.9,732.6"/>
<path class="l" d="M333.3,696.2 L317.7,719"/>
<path class="l" d="M342.7,768 L373.9,753.4"/>
<path class="l" d="M448.7,717.9 L460,701.5"/>
<path class="l" d="M433.7,762.5 L428,779.5"/>
<path class="l" d="M435.8,721.5 L427.3,716.5 L398.6,732.2" />
<path class="b" d="M426.2,293 L352.5,250.7 L352.5,94.2 L515.2,94.2 L584.8,133.8 L584.8,274.2 L549.6,293 L488.7,259.2 L426.2,293" />
<path class="l" d="M200.8,122.11 L199.93,131.47" />
<path class="l" d="M206.17,122.11 L205.04,132.47" />
<ellipse class="l" cx="203.42" cy="121.86" rx="2.7" ry="1.3" transform="rotate(5 203.42 121.86)" />
<path class="l" d="M199.93,131.47 C200.30,131.72 201.32,132.80 202.17,132.97 C203.02,133.14 204.56,132.55 205.04,132.47" />
<path class="l" d="M191.44,130.97 L198.05,127.48 L199.93,128.73" />
<path class="l" d="M204.92,132.22 L207.17,133.97 L208.16,143.71 L207.42,157.44" />
<path class="l" d="M191.44,130.97 C192.23,131.22 194.56,131.55 196.18,132.47 C197.80,133.39 199.82,135.22 201.17,136.47 C202.52,137.72 203.62,138.92 204.29,139.96 C204.96,141.00 205.02,142.25 205.17,142.71" />
<path class="l" d="M205.17,142.71 L204.42,158.94" />
<path class="l" d="M201.42,140.59 L200.67,159.94" />
<ellipse class="l" cx="200.8" cy="139.59" rx="1.4" ry="1.6" transform="rotate(0 200.8 139.59)" />
<path class="l" d="M191.44,130.97 C191.36,131.32 190.94,132.43 190.94,133.10 C190.94,133.77 191.36,134.66 191.44,134.97" />
<path class="d" d="M191.44,134.97 C190.67,135.80 188.01,137.88 186.82,139.96 C185.63,142.04 184.84,145.26 184.32,147.45 C183.80,149.63 183.80,152.13 183.70,153.07" />
<path class="d" d="M189.69,145.58 C189.98,144.64 190.36,141.11 191.44,139.96 C192.52,138.81 195.39,138.92 196.18,138.71" />
<path class="l" d="M183.70,153.07 C182.76,153.90 179.48,156.60 178.08,158.06 C176.69,159.52 175.64,160.56 175.33,161.81 C175.02,163.06 175.12,164.41 176.20,165.56 C177.28,166.71 180.88,168.16 181.82,168.68" />
<ellipse class="l" cx="179.95" cy="163.68" rx="1.5" ry="2.4" transform="rotate(-15 179.95 163.68)" />
<path class="l" d="M186.44,151.2 L186.44,164.93 L196.8,164.93" />
<path class="d" d="M181.82,168.68 L198.68,168.68" />
<path class="l" d="M196.80,164.93 C196.86,164.20 196.66,161.50 197.18,160.56 C197.70,159.62 198.22,159.83 199.93,159.31 C201.64,158.79 205.71,157.34 207.42,157.44 C209.12,157.54 209.64,158.90 210.16,159.94 C210.68,160.98 210.89,162.60 210.54,163.68 C210.19,164.76 209.39,165.85 208.04,166.43 C206.69,167.01 203.98,167.12 202.42,167.18 C200.86,167.24 199.62,167.18 198.68,166.80 C197.74,166.43 197.11,165.24 196.80,164.93" />
<ellipse class="l" cx="201.8" cy="163.06" rx="1.6" ry="2.5" transform="rotate(-10 201.8 163.06)" />
<path class="l" d="M204.92,159.31 C205.23,159.83 206.62,161.24 206.79,162.43 C206.96,163.62 206.06,165.76 205.92,166.43" />
<path class="l" d="M201.17,168.68 L204.92,176.79 L221.77,176.79 L221.77,171.8 L209.91,171.8 L207.42,166.93" />
<path class="d" d="M181.20,169.93 C180.82,171.59 179.57,176.58 178.95,179.91 C178.32,183.24 176.97,187.40 177.45,189.90 C177.93,192.40 179.32,193.81 181.82,194.89 C184.32,195.97 190.33,196.60 192.43,196.39 C194.53,196.18 193.56,196.19 194.43,193.65 C195.31,191.11 196.56,185.11 197.68,181.16 C198.80,177.21 200.59,171.80 201.17,169.93" />
<ellipse class="w" cx="235.4" cy="123.6" rx="3.6" ry="5.2" transform="rotate(-25 235.4 123.6)" />
<ellipse class="l" cx="235.70000000000002" cy="124.0" rx="1.728" ry="2.6" transform="rotate(-25 235.70000000000002 124.0)" />
<ellipse class="l" cx="235.8" cy="124.1" rx="0.792" ry="1.248" transform="rotate(-25 235.8 124.1)" />
<ellipse class="l" cx="235.9" cy="123.8" rx="1.5" ry="2.4" transform="rotate(-25 235.9 123.8)" style="fill:#333"/>
<path class="w" d="M549.59,92.1 L555.01,92.0 L558.94,95.68 L559.96,100.84 L556.74,105.42" />
<path class="l" d="M553.57,95.93 L558.94,95.68" />
<path class="l" d="M555.09,100.91 L559.96,100.84" />
<ellipse class="w" cx="551.6" cy="99.2" rx="5.4" ry="8.0" transform="rotate(-20 551.6 99.2)" />
<ellipse class="l" cx="551.9" cy="99.60000000000001" rx="2.592" ry="4.0" transform="rotate(-20 551.9 99.60000000000001)" />
<ellipse class="l" cx="552.0" cy="99.7" rx="1.1880000000000002" ry="1.92" transform="rotate(-20 552.0 99.7)" />
<path class="w" d="M583.14,96.66 L589.12,94.07 L592.44,95.64 L594.3,99.27 L593.3,102.82 L587.78,105.75 Z" />
<path class="l" d="M585.98,98.36 L592.44,95.64" />
<path class="l" d="M588.18,102.68 L594.3,99.27" />
<ellipse class="l" cx="591.74" cy="98.11" rx="1.5" ry="3.1" transform="rotate(-27.035642479973234 591.74 98.11)" style="stroke-width:.8"/>
<ellipse class="w" cx="585.46" cy="101.2" rx="2.5" ry="6.5" transform="rotate(-27.035642479973234 585.46 101.2)" />
<path d="M568.26,107.17 L584.77,98.75 L587.04,103.2 L570.54,111.63 Z" fill="#fff" stroke="none"/>
<path class="l" d="M568.26,107.17 L583.79,99.25" />
<path class="l" d="M570.54,111.63 L586.42,103.52" />
<ellipse class="w" cx="569.4" cy="109.4" rx="1.125" ry="2.5" transform="rotate(-27.035642479973234 569.4 109.4)" />
<ellipse class="l" cx="571.58" cy="108.29" rx="1.125" ry="2.5" transform="rotate(-27.035642479973234 571.58 108.29)" style="stroke-width:.95"/>
<ellipse class="l" cx="573.76" cy="107.17" rx="1.125" ry="2.5" transform="rotate(-27.035642479973234 573.76 107.17)" style="stroke-width:.95"/>
<ellipse class="l" cx="575.95" cy="106.06" rx="1.125" ry="2.5" transform="rotate(-27.035642479973234 575.95 106.06)" style="stroke-width:.95"/>
<ellipse class="l" cx="578.13" cy="104.95" rx="1.125" ry="2.5" transform="rotate(-27.035642479973234 578.13 104.95)" style="stroke-width:.95"/>
<path class="w" d="M536.32,140.21 L542.27,137.57 L545.61,139.11 L547.49,142.73 L546.52,146.28 L541.03,149.26 Z" />
<path class="l" d="M539.17,141.89 L545.61,139.11" />
<path class="l" d="M541.4,146.19 L547.49,142.73" />
<ellipse class="l" cx="544.93" cy="141.59" rx="1.5" ry="3.1" transform="rotate(-27.492836951539616 544.93 141.59)" style="stroke-width:.8"/>
<ellipse class="w" cx="538.67" cy="144.73" rx="2.5" ry="6.5" transform="rotate(-27.492836951539616 538.67 144.73)" />
<path d="M521.2,150.89 L537.92,142.19 L540.32,146.81 L523.6,155.51 Z" fill="#fff" stroke="none"/>
<path class="l" d="M521.2,150.89 L536.94,142.7" />
<path class="l" d="M523.6,155.51 L539.7,147.13" />
<ellipse class="w" cx="522.4" cy="153.2" rx="1.1700000000000002" ry="2.6" transform="rotate(-27.492836951539616 522.4 153.2)" />
<ellipse class="l" cx="524.61" cy="152.05" rx="1.1700000000000002" ry="2.6" transform="rotate(-27.492836951539616 524.61 152.05)" style="stroke-width:.95"/>
<ellipse class="l" cx="526.81" cy="150.91" rx="1.1700000000000002" ry="2.6" transform="rotate(-27.492836951539616 526.81 150.91)" style="stroke-width:.95"/>
<ellipse class="l" cx="529.01" cy="149.76" rx="1.1700000000000002" ry="2.6" transform="rotate(-27.492836951539616 529.01 149.76)" style="stroke-width:.95"/>
<ellipse class="l" cx="531.22" cy="148.61" rx="1.1700000000000002" ry="2.6" transform="rotate(-27.492836951539616 531.22 148.61)" style="stroke-width:.95"/>
<path class="w" d="M644.26,168.73 L650.16,165.96 L653.53,167.43 L655.49,171.01 L654.6,174.58 L649.16,177.67 Z" />
<path class="l" d="M647.14,170.35 L653.53,167.43" />
<path class="l" d="M649.47,174.6 L655.49,171.01" />
<ellipse class="l" cx="652.9" cy="169.92" rx="1.5" ry="3.1" transform="rotate(-28.739795291687987 652.9 169.92)" style="stroke-width:.8"/>
<ellipse class="w" cx="646.71" cy="173.2" rx="2.5" ry="6.5" transform="rotate(-28.739795291687987 646.71 173.2)" />
<path d="M630.2,179.41 L645.95,170.77 L648.35,175.15 L632.6,183.79 Z" fill="#fff" stroke="none"/>
<path class="l" d="M630.2,179.41 L644.98,171.3" />
<path class="l" d="M632.6,183.79 L647.74,175.49" />
<ellipse class="w" cx="631.4" cy="181.6" rx="1.125" ry="2.5" transform="rotate(-28.739795291687987 631.4 181.6)" />
<ellipse class="l" cx="633.49" cy="180.45" rx="1.125" ry="2.5" transform="rotate(-28.739795291687987 633.49 180.45)" style="stroke-width:.95"/>
<ellipse class="l" cx="635.59" cy="179.31" rx="1.125" ry="2.5" transform="rotate(-28.739795291687987 635.59 179.31)" style="stroke-width:.95"/>
<ellipse class="l" cx="637.68" cy="178.16" rx="1.125" ry="2.5" transform="rotate(-28.739795291687987 637.68 178.16)" style="stroke-width:.95"/>
<ellipse class="l" cx="639.77" cy="177.01" rx="1.125" ry="2.5" transform="rotate(-28.739795291687987 639.77 177.01)" style="stroke-width:.95"/>
<path class="w" d="M566.54,376.9 L570.59,375.11 L572.86,376.15 L574.14,378.62 L573.48,381.03 L569.74,383.05 Z" />
<path class="l" d="M568.47,378.04 L572.86,376.15" />
<path class="l" d="M569.99,380.97 L574.14,378.62" />
<ellipse class="l" cx="572.41" cy="377.87" rx="1.02" ry="2.108" transform="rotate(-27.474431626277166 572.41 377.87)" style="stroke-width:.8"/>
<ellipse class="w" cx="568.14" cy="379.98" rx="1.7" ry="4.42" transform="rotate(-27.474431626277166 568.14 379.98)" />
<path d="M554.57,385.0 L567.75,378.15 L569.41,381.34 L556.23,388.2 Z" fill="#fff" stroke="none"/>
<path class="l" d="M554.57,385.0 L566.77,378.66" />
<path class="l" d="M556.23,388.2 L568.79,381.67" />
<ellipse class="w" cx="555.4" cy="386.6" rx="0.81" ry="1.8" transform="rotate(-27.474431626277166 555.4 386.6)" />
<ellipse class="l" cx="557.65" cy="385.43" rx="0.81" ry="1.8" transform="rotate(-27.474431626277166 557.65 385.43)" style="stroke-width:.95"/>
<ellipse class="l" cx="559.9" cy="384.26" rx="0.81" ry="1.8" transform="rotate(-27.474431626277166 559.9 384.26)" style="stroke-width:.95"/>
<ellipse class="l" cx="562.15" cy="383.09" rx="0.81" ry="1.8" transform="rotate(-27.474431626277166 562.15 383.09)" style="stroke-width:.95"/>
<path class="w" d="M444.15,755.53 L449.66,759.0 L450.24,762.63 L448.29,766.21 L444.8,767.38 L439.27,764.48 Z" />
<path class="l" d="M444.34,758.83 L450.24,762.63" />
<path class="l" d="M442.02,763.08 L448.29,766.21" />
<ellipse class="l" cx="447.81" cy="763.44" rx="1.5" ry="3.1" transform="rotate(28.610459665965188 447.81 763.44)" style="stroke-width:.8"/>
<ellipse class="w" cx="441.71" cy="760.0" rx="2.25" ry="5.1" transform="rotate(28.610459665965188 441.71 760.0)" />
<path d="M430.85,751.12 L443.39,757.96 L440.9,762.53 L428.35,755.68 Z" fill="#fff" stroke="none"/>
<path class="l" d="M430.85,751.12 L442.43,757.43" />
<path class="l" d="M428.35,755.68 L440.29,762.19" />
<ellipse class="w" cx="429.6" cy="753.4" rx="1.1700000000000002" ry="2.6" transform="rotate(28.610459665965188 429.6 753.4)" />
<ellipse class="l" cx="431.91" cy="754.66" rx="1.1700000000000002" ry="2.6" transform="rotate(28.610459665965188 431.91 754.66)" style="stroke-width:.95"/>
<ellipse class="l" cx="434.22" cy="755.92" rx="1.1700000000000002" ry="2.6" transform="rotate(28.610459665965188 434.22 755.92)" style="stroke-width:.95"/>
<ellipse class="l" cx="436.53" cy="757.18" rx="1.1700000000000002" ry="2.6" transform="rotate(28.610459665965188 436.53 757.18)" style="stroke-width:.95"/>
<ellipse class="w" cx="509.8" cy="160" rx="3.2" ry="5.2" transform="rotate(-20 509.8 160)" />
<ellipse class="l" cx="510.0" cy="160" rx="1.6" ry="2.9" transform="rotate(-20 510.0 160)" />
<ellipse class="h" cx="431.2" cy="205.6" rx="3.6" ry="5.2" transform="rotate(-25 431.2 205.6)" />
<ellipse class="h" cx="300" cy="295.4" rx="4.0" ry="5.6" transform="rotate(-30 300 295.4)" />
<path class="h" d="M349.99,277.61 C350.42,276.18 352.24,275.53 353.63,275.79 C355.02,276.05 356.92,277.39 358.31,279.17 C359.70,280.95 360.22,283.85 361.95,286.45 C363.68,289.05 367.28,292.60 368.71,294.77 C370.14,296.94 370.70,298.24 370.53,299.45 C370.36,300.66 369.10,302.05 367.67,302.05 C366.24,302.05 363.94,301.10 361.95,299.45 C359.96,297.80 357.53,294.68 355.71,292.17 C353.89,289.66 351.98,286.80 351.03,284.37 C350.08,281.94 349.56,279.04 349.99,277.61 Z" />
<ellipse class="h" cx="344.3" cy="684.1" rx="4.6" ry="6.3" transform="rotate(40 344.3 684.1)" style="stroke-width:2.1"/>
<ellipse class="h" cx="360.8" cy="675.8" rx="4.6" ry="6.3" transform="rotate(40 360.8 675.8)" style="stroke-width:2.1"/>
<ellipse class="h" cx="360.3" cy="694.2" rx="3.0" ry="4.2" transform="rotate(35 360.3 694.2)" style="stroke-width:1.6"/>
<path class="w" d="M298.87,247.27 L316.87,238.07 L314.13,232.73 L296.13,241.93 Z" style="stroke:none"/>
<path class="l" d="M298.8653331793673,247.27130404658823 L316.8653331793673,238.07130404658824" />
<path class="l" d="M296.1346668206327,241.92869595341176 L314.1346668206327,232.72869595341177" />
<ellipse class="w" cx="297.5" cy="244.6" rx="1.35" ry="3.0" transform="rotate(-27.072080237992736 297.5 244.6)" />
<ellipse class="w" cx="315.5" cy="235.4" rx="1.35" ry="3.0" transform="rotate(-27.072080237992736 315.5 235.4)" />
<ellipse class="l" cx="299.12" cy="243.772" rx="1.35" ry="3.0" transform="rotate(-27.072080237992736 299.12 243.772)" style="stroke-width:.95"/>
<ellipse class="l" cx="313.88" cy="236.228" rx="1.35" ry="3.0" transform="rotate(-27.072080237992736 313.88 236.228)" style="stroke-width:.95"/>
<ellipse class="l" cx="300.74" cy="242.944" rx="1.35" ry="3.0" transform="rotate(-27.072080237992736 300.74 242.944)" style="stroke-width:.95"/>
<ellipse class="l" cx="312.26" cy="237.056" rx="1.35" ry="3.0" transform="rotate(-27.072080237992736 312.26 237.056)" style="stroke-width:.95"/>
<ellipse class="l" cx="302.36" cy="242.11599999999999" rx="1.35" ry="3.0" transform="rotate(-27.072080237992736 302.36 242.11599999999999)" style="stroke-width:.95"/>
<ellipse class="l" cx="310.64" cy="237.88400000000001" rx="1.35" ry="3.0" transform="rotate(-27.072080237992736 310.64 237.88400000000001)" style="stroke-width:.95"/>
<path class="w" d="M394.31,342.73 L412.91,333.13 L409.89,327.27 L391.29,336.87 Z" style="stroke:none"/>
<path class="l" d="M394.31352163524184,342.73244816828105 L412.9135216352418,333.13244816828103" />
<path class="l" d="M391.2864783647582,336.86755183171897 L409.88647836475815,327.26755183171895" />
<ellipse class="w" cx="392.8" cy="339.8" rx="1.4849999999999999" ry="3.3" transform="rotate(-27.299572211332904 392.8 339.8)" />
<ellipse class="w" cx="411.4" cy="330.2" rx="1.4849999999999999" ry="3.3" transform="rotate(-27.299572211332904 411.4 330.2)" />
<ellipse class="l" cx="394.474" cy="338.93600000000004" rx="1.4849999999999999" ry="3.3" transform="rotate(-27.299572211332904 394.474 338.93600000000004)" style="stroke-width:.95"/>
<ellipse class="l" cx="409.726" cy="331.06399999999996" rx="1.4849999999999999" ry="3.3" transform="rotate(-27.299572211332904 409.726 331.06399999999996)" style="stroke-width:.95"/>
<ellipse class="l" cx="396.148" cy="338.072" rx="1.4849999999999999" ry="3.3" transform="rotate(-27.299572211332904 396.148 338.072)" style="stroke-width:.95"/>
<ellipse class="l" cx="408.05199999999996" cy="331.928" rx="1.4849999999999999" ry="3.3" transform="rotate(-27.299572211332904 408.05199999999996 331.928)" style="stroke-width:.95"/>
<ellipse class="l" cx="397.822" cy="337.208" rx="1.4849999999999999" ry="3.3" transform="rotate(-27.299572211332904 397.822 337.208)" style="stroke-width:.95"/>
<ellipse class="l" cx="406.378" cy="332.792" rx="1.4849999999999999" ry="3.3" transform="rotate(-27.299572211332904 406.378 332.792)" style="stroke-width:.95"/>
<path class="w" d="M328.02,692.15 L343.42,700.75 L345.38,697.25 L329.98,688.65 Z" style="stroke:none"/>
<path class="l" d="M328.02486559002824,692.1461709201819 L343.4248655900282,700.746170920182" />
<path class="l" d="M329.97513440997176,688.653829079818 L345.37513440997174,697.253829079818" />
<ellipse class="w" cx="329.0" cy="690.4" rx="0.9" ry="2.0" transform="rotate(29.180806052499957 329.0 690.4)" />
<ellipse class="w" cx="344.4" cy="699.0" rx="0.9" ry="2.0" transform="rotate(29.180806052499957 344.4 699.0)" />
<ellipse class="l" cx="331.079" cy="691.561" rx="0.9" ry="2.0" transform="rotate(29.180806052499957 331.079 691.561)" style="stroke-width:.95"/>
<ellipse class="l" cx="342.32099999999997" cy="697.8389999999999" rx="0.9" ry="2.0" transform="rotate(29.180806052499957 342.32099999999997 697.8389999999999)" style="stroke-width:.95"/>
<ellipse class="l" cx="333.158" cy="692.722" rx="0.9" ry="2.0" transform="rotate(29.180806052499957 333.158 692.722)" style="stroke-width:.95"/>
<ellipse class="l" cx="340.24199999999996" cy="696.678" rx="0.9" ry="2.0" transform="rotate(29.180806052499957 340.24199999999996 696.678)" style="stroke-width:.95"/>
<path class="l" d="M294.5,246.2 L226.5,286.6" style="stroke-dasharray:33 3 2 3;stroke-dashoffset:0"/>
<path class="l" d="M319,233.6 L439,163" style="stroke-dasharray:34 3 2 3;stroke-dashoffset:0"/>
<path class="l" d="M335.5,374.5 L390,342.5" style="stroke-dasharray:27 3 2 3;stroke-dashoffset:0"/>
<path class="l" d="M414.3,328.9 L545,243.7" style="stroke-dasharray:24 3.5 2 3.5;stroke-dashoffset:0"/>
<path class="l" d="M466.3,298.7 L476.5,284.6 L531.5,262.4" />
<path class="l" d="M544,104.6 L452.5,156.6" style="stroke-dasharray:40.5 3 3.5 3 200 3;stroke-dashoffset:0"/>
<path class="l" d="M565.9,111.8 L473.3,166" style="stroke-dasharray:63 3 2 3 200 3;stroke-dashoffset:0"/>
<path class="l" d="M505.5,163.9 L484.7,175.3"/>
<path class="l" d="M436.2,202.6 L465.6,187.5"/>
<path class="l" d="M579.6,220 L551.2,233.5" style="stroke-dasharray:12 3 2 3;stroke-dashoffset:0"/>
<path class="l" d="M628.3,184.2 L557.4,223.3" style="stroke-dasharray:30 3 2 3;stroke-dashoffset:0"/>
<path class="l" d="M328.5,395.8 L376.4,421.6" style="stroke-dasharray:22 2.5 4 2.5;stroke-dashoffset:0"/>
<path class="l" d="M300.5,675.6 L327.5,689.8"/>
<path class="l" d="M346,700.0 L356,705.0"/>
<path class="l" d="M362.2,709.3 L427.3,751.5"/>
<path class="w" d="M371.11,225.71 Q371.11,221.71 377.6,221.21 L437.53,255.67 Q441.02,257.67 441.02,260.16 L441.02,276.64 Q441.02,281.64 434.53,279.64 L374.61,245.18 Q371.11,243.18 371.11,240.69 Z" />
<path class="w" d="M369.36,226.95 Q369.36,222.96 375.86,222.46 L435.78,256.92 Q439.28,258.91 439.28,261.41 L439.28,277.89 Q439.28,282.88 432.78,280.89 L372.86,246.43 Q369.36,244.43 369.36,241.94 Z" />
<path class="w" d="M367.62,228.2 Q367.62,224.21 374.11,223.71 L434.03,258.16 Q437.53,260.16 437.53,262.66 L437.53,279.14 Q437.53,284.13 431.04,282.13 L371.11,247.68 Q367.62,245.68 367.62,243.18 Z" />
<path class="w" d="M365.87,229.45 Q365.87,225.46 372.36,224.96 L432.28,259.41 Q435.78,261.41 435.78,263.91 L435.78,280.39 Q435.78,285.38 429.29,283.38 L369.36,248.93 Q365.87,246.93 365.87,244.43 Z" />
<path class="w" d="M364.12,230.7 Q364.12,226.7 370.61,226.2 L430.54,260.66 Q434.03,262.66 434.03,265.16 L434.03,281.64 Q434.03,286.63 427.54,284.63 L367.62,250.17 Q364.12,248.18 364.12,245.68 Z" />
<path class="w" d="M362.37,231.95 Q362.37,227.95 368.86,227.45 L428.79,261.91 Q432.28,263.91 432.28,266.4 L432.28,282.88 Q432.28,287.88 425.79,285.88 L365.87,251.42 Q362.37,249.43 362.37,246.93 Z" />
<path class="l" d="M365.37,231.95 C365.79,230.12 365.62,230.70 367.37,231.45 C369.12,232.20 374.28,235.19 375.86,236.44 C377.44,237.69 376.69,236.78 376.85,238.94 C377.02,241.10 377.18,247.52 376.85,249.43 C376.52,251.34 376.69,251.25 374.86,250.42 C373.03,249.59 367.54,245.76 365.87,244.43 C364.20,243.10 364.95,244.51 364.87,242.43 C364.79,240.35 364.95,233.78 365.37,231.95 Z" />
<path class="l" d="M419.80,262.91 C420.22,261.16 419.88,261.66 421.80,262.41 C423.72,263.16 429.54,266.15 431.29,267.40 C433.04,268.65 432.12,267.82 432.28,269.90 C432.44,271.98 432.61,278.06 432.28,279.89 C431.95,281.72 432.29,281.72 430.29,280.89 C428.29,280.06 422.13,276.22 420.30,274.89 C418.47,273.56 419.38,274.90 419.30,272.90 C419.22,270.90 419.38,264.66 419.80,262.91 Z" />
<path class="l" d="M437.10,162.40 C437.28,161.93 436.98,160.58 438.20,159.60 C439.42,158.62 442.90,157.07 444.40,156.50 C445.90,155.93 446.38,156.02 447.20,156.20 C448.02,156.38 448.73,157.00 449.30,157.60 C449.87,158.20 450.38,159.43 450.60,159.80" />
<path class="l" d="M437.10,162.40 C437.18,165.00 437.25,172.80 437.60,178.00 C437.95,183.20 438.42,189.78 439.20,193.60 C439.98,197.42 441.25,199.23 442.30,200.90 C443.35,202.57 444.97,203.15 445.50,203.60" />
<ellipse class="l" cx="440" cy="162.5" rx="1.4" ry="1.6" transform="rotate(0 440 162.5)" />
<path class="l" d="M444.6,156.6 L443.9,163.2" />
<path class="l" d="M450.6,159.8 L460,166" />
<path class="l" d="M460.00,166.40 C460.33,166.13 461.10,165.03 462.00,164.80 C462.90,164.57 464.47,164.50 465.40,165.00 C466.33,165.50 466.97,166.80 467.60,167.80 C468.23,168.80 468.93,170.47 469.20,171.00" />
<path class="l" d="M460.00,166.40 C459.90,166.77 459.23,167.90 459.40,168.60 C459.57,169.30 460.73,170.27 461.00,170.60" />
<path class="l" d="M461.0,170.6 L465.6,174.6" />
<path class="l" d="M465.40,165.00 C465.20,165.43 464.17,166.63 464.20,167.60 C464.23,168.57 465.37,170.27 465.60,170.80" style="stroke-width:.8"/>
<path class="l" d="M469.2,171 L470,172.6" />
<path class="l" d="M479.2,172.6 L481.9,174.4 L483.9,178 L490.2,182.4" />
<path class="l" d="M490.20,182.80 C490.53,182.53 491.30,181.43 492.20,181.20 C493.10,180.97 494.67,180.90 495.60,181.40 C496.53,181.90 497.17,183.20 497.80,184.20 C498.43,185.20 499.13,186.87 499.40,187.40" />
<path class="l" d="M490.20,182.80 C490.10,183.17 489.43,184.30 489.60,185.00 C489.77,185.70 490.93,186.67 491.20,187.00" />
<path class="l" d="M491.2,187.0 L495.8,191.0" />
<path class="l" d="M495.60,181.40 C495.40,181.83 494.37,183.03 494.40,184.00 C494.43,184.97 495.57,186.67 495.80,187.20" style="stroke-width:.8"/>
<path class="l" d="M499.4,187.4 L505.4,193.4" />
<path class="l" d="M505.40,193.60 C505.73,193.33 506.50,192.23 507.40,192.00 C508.30,191.77 509.87,191.70 510.80,192.20 C511.73,192.70 512.37,194.00 513.00,195.00 C513.63,196.00 514.33,197.67 514.60,198.20" />
<path class="l" d="M505.40,193.60 C505.30,193.97 504.63,195.10 504.80,195.80 C504.97,196.50 506.13,197.47 506.40,197.80" />
<path class="l" d="M506.4,197.79999999999998 L511.0,201.79999999999998" />
<path class="l" d="M510.80,192.20 C510.60,192.63 509.57,193.83 509.60,194.80 C509.63,195.77 510.77,197.47 511.00,198.00" style="stroke-width:.8"/>
<path class="l" d="M514.6,198.2 L524.2,203.8" />
<path class="l" d="M524.20,204.20 C524.53,203.93 525.30,202.83 526.20,202.60 C527.10,202.37 528.67,202.30 529.60,202.80 C530.53,203.30 531.17,204.60 531.80,205.60 C532.43,206.60 533.13,208.27 533.40,208.80" />
<path class="l" d="M524.20,204.20 C524.10,204.57 523.43,205.70 523.60,206.40 C523.77,207.10 524.93,208.07 525.20,208.40" />
<path class="l" d="M525.2,208.39999999999998 L529.8000000000001,212.39999999999998" />
<path class="l" d="M529.60,202.80 C529.40,203.23 528.37,204.43 528.40,205.40 C528.43,206.37 529.57,208.07 529.80,208.60" style="stroke-width:.8"/>
<path class="l" d="M533.4,208.8 L535.6,208.4" />
<path class="l" d="M535.60,208.40 C536.30,207.88 538.42,205.72 539.80,205.30 C541.18,204.88 542.87,205.33 543.90,205.90 C544.93,206.47 545.48,207.80 546.00,208.70 C546.52,209.60 546.83,210.87 547.00,211.30" />
<path class="l" d="M547.00,211.30 C547.62,211.73 549.65,212.87 550.70,213.90 C551.75,214.93 552.70,216.33 553.30,217.50 C553.90,218.67 554.42,219.72 554.30,220.90 C554.18,222.08 553.20,223.35 552.60,224.60 C552.00,225.85 551.02,227.40 550.70,228.40 C550.38,229.40 550.70,230.23 550.70,230.60" />
<path class="l" d="M541.20,213.60 C541.77,213.40 543.63,212.78 544.60,212.40 C545.57,212.02 546.60,211.48 547.00,211.30" />
<path class="l" d="M538.00,212.80 C538.60,213.07 540.27,213.50 541.60,214.40 C542.93,215.30 545.03,216.93 546.00,218.20 C546.97,219.47 547.17,221.37 547.40,222.00" />
<path class="l" d="M443.9,163.2 L494,192.6 L535.6,218" />
<path class="l" d="M444.00,196.00 C443.98,192.30 443.83,177.75 443.90,173.80 C443.97,169.85 444.12,172.77 444.40,172.30 C444.68,171.83 444.73,171.27 445.60,171.00 C446.47,170.73 448.93,170.75 449.60,170.70" />
<path class="l" d="M449.6,170.7 L494,197.8 L536.7,221.7" />
<path class="l" d="M536.70,221.70 C537.22,222.13 539.47,223.25 539.80,224.30 C540.13,225.35 540.27,226.68 538.70,228.00 C537.13,229.32 532.22,230.77 530.40,232.20 C528.58,233.63 528.92,235.40 527.80,236.60 C526.68,237.80 524.38,238.93 523.70,239.40" />
<path class="l" d="M452.7,174.4 L453.2,189.5 L457.4,194.1 L494,215.5 L528.3,234.7" />
<path class="l" d="M444.00,196.00 C444.23,196.43 444.47,198.05 445.40,198.60 C446.33,199.15 448.90,199.18 449.60,199.30" />
<path class="l" d="M449.6,199.3 L506,230.6 L523.7,239.4" />
<path class="l" d="M445.50,203.60 C445.50,203.57 444.94,202.58 445.48,203.43 C446.02,204.28 447.56,206.97 448.73,208.68 C449.90,210.39 450.60,212.73 452.47,213.67 C454.34,214.60 457.46,214.08 459.96,214.29 C462.46,214.50 465.58,213.98 467.45,214.92 C469.32,215.86 470.12,218.76 471.20,219.91 C472.28,221.06 472.08,221.48 473.95,221.79 C475.82,222.10 480.50,220.96 482.43,221.79 C484.37,222.62 484.52,225.43 485.56,226.78 C486.60,228.13 486.70,229.38 488.68,229.90 C490.66,230.42 495.44,229.07 497.42,229.90 C499.40,230.73 499.50,233.54 500.54,234.89 C501.58,236.24 501.68,237.28 503.66,238.01 C505.64,238.74 510.32,238.43 512.40,239.26 C514.48,240.09 514.58,241.76 516.14,243.01 C517.70,244.26 522.41,247.35 521.76,246.75 C521.11,246.15 512.79,240.16 512.24,239.41 C511.69,238.66 516.92,241.06 518.48,242.22 C520.04,243.38 520.25,245.20 521.60,246.38 C522.95,247.56 525.77,248.81 526.60,249.29" />
<path class="l" d="M526.60,249.29 C526.69,248.87 526.71,247.59 527.12,246.79 C527.53,245.99 528.28,244.85 529.09,244.50 C529.90,244.15 531.35,244.22 532.01,244.71 C532.67,245.20 532.84,246.62 533.05,247.42 C533.26,248.22 533.23,249.15 533.26,249.50" />
<path class="l" d="M533.26,247.42 C533.50,246.66 534.19,244.16 534.71,242.84 C535.23,241.52 535.62,240.10 536.38,239.51 C537.14,238.92 538.60,238.68 539.29,239.30 C539.98,239.93 540.37,242.08 540.54,243.26 C540.71,244.44 540.37,245.86 540.33,246.38" />
<path class="l" d="M539.29,239.30 C539.72,239.58 540.99,240.31 541.89,240.97 C542.79,241.63 544.23,242.88 544.70,243.26" />
<path class="l" d="M540.33,218.08 C540.56,218.77 541.40,220.51 541.68,222.24 C541.96,223.97 541.52,225.19 541.99,228.48 C542.46,231.77 543.55,238.19 544.49,242.01 C545.43,245.82 546.74,248.08 547.61,251.37 C548.48,254.66 549.00,259.34 549.69,261.77 C550.38,264.20 551.42,265.24 551.77,265.93" />
<path class="l" d="M547.40,220.16 C547.43,221.55 547.58,225.70 547.61,228.48 C547.64,231.25 547.44,234.35 547.61,236.81 C547.78,239.27 548.48,242.19 548.65,243.26" />
<path class="l" d="M535.61,218.05 C536.13,218.05 537.52,217.76 538.73,218.05 C539.94,218.34 541.67,218.83 542.89,219.82 C544.11,220.81 545.39,222.28 546.02,223.98 C546.64,225.68 546.54,229.01 546.64,230.02" />
<path class="l" d="M547.61,225.88 C548.13,226.83 549.52,230.04 550.73,231.60 C551.94,233.16 553.85,234.18 554.89,235.25 C555.93,236.32 556.63,237.58 556.98,238.05" />
<path class="l" d="M556.98,238.05 L556.98,252.41" />
<path class="l" d="M556.98,252.41 C557.50,253.10 559.41,255.36 560.10,256.57 C560.79,257.78 561.31,258.65 561.14,259.69 C560.97,260.73 560.62,261.42 559.06,262.81 C557.50,264.20 553.16,266.46 551.77,268.02 C550.38,269.58 551.77,271.38 550.73,272.18 C549.69,272.98 547.09,272.97 545.53,272.80 C543.97,272.63 542.06,271.42 541.37,271.14" />
<path class="l" d="M541.37,271.14 L528.37,261.77" />
<path class="l" d="M528.37,261.77 C528.20,261.08 527.38,258.69 527.33,257.61 C527.28,256.54 527.93,255.70 528.05,255.32" />
<path class="l" d="M548.65,243.26 C549.17,243.92 551.04,245.69 551.77,247.21 C552.50,248.74 553.02,250.68 553.02,252.41 C553.02,254.14 551.98,256.74 551.77,257.61" />
<path class="l" d="M548.65,243.26 C548.34,243.75 546.95,244.82 546.78,246.17 C546.61,247.52 547.47,250.50 547.61,251.37" />
<path class="l" d="M530.14,256.78 C531.32,257.82 534.78,261.15 537.21,263.02 C539.64,264.89 542.62,267.36 544.70,268.02 C546.78,268.68 548.86,267.15 549.69,266.98" />
<path class="l" d="M533.26,249.50 C533.92,250.37 535.65,253.00 537.21,254.70 C538.77,256.40 541.02,258.13 542.62,259.69 C544.22,261.25 546.09,263.33 546.78,264.06" />
<path class="l" d="M551.77,257.61 C552.29,257.26 554.02,256.40 554.89,255.53 C555.76,254.66 556.63,252.93 556.98,252.41" />
<path class="l" d="M549.69,234.73 L551.36,240.55 L554.89,238.05" />
<ellipse class="l" cx="548.44" cy="263.44" rx="1.2" ry="1.4" transform="rotate(0 548.44 263.44)" />
<ellipse class="l" cx="544.7" cy="243.26" rx="1.2" ry="1.4" transform="rotate(0 544.7 243.26)" />
<ellipse class="l" cx="530.97" cy="235.14" rx="1.2" ry="1.4" transform="rotate(0 530.97 235.14)" />
<ellipse class="l" cx="521.6" cy="245.13" rx="1.2" ry="1.4" transform="rotate(0 521.6 245.13)" />
<ellipse class="l" cx="543.66" cy="221.41" rx="1.1" ry="1.3" transform="rotate(0 543.66 221.41)" />
<ellipse class="l" cx="539.08" cy="218.29" rx="1.1" ry="1.3" transform="rotate(0 539.08 218.29)" />
<ellipse class="l" cx="459.49" cy="172.81" rx="1.15" ry="1.35" transform="rotate(0 459.49 172.81)" />
<ellipse class="l" cx="474.57" cy="181.65" rx="1.15" ry="1.35" transform="rotate(0 474.57 181.65)" />
<ellipse class="l" cx="489.66" cy="190.08" rx="1.15" ry="1.35" transform="rotate(0 489.66 190.08)" />
<ellipse class="l" cx="504.74" cy="198.4" rx="1.15" ry="1.35" transform="rotate(0 504.74 198.4)" />
<ellipse class="l" cx="440.03" cy="182.38" rx="1.15" ry="1.35" transform="rotate(0 440.03 182.38)" />
<ellipse class="l" cx="458.97" cy="187.89" rx="1.15" ry="1.35" transform="rotate(0 458.97 187.89)" />
<ellipse class="l" cx="445.44" cy="202.98" rx="1.15" ry="1.35" transform="rotate(0 445.44 202.98)" />
<ellipse class="l" cx="504.4" cy="198.81" rx="1.15" ry="1.35" transform="rotate(0 504.4 198.81)" />
<ellipse class="l" cx="524.17" cy="210.87" rx="1.15" ry="1.35" transform="rotate(0 524.17 210.87)" />
<ellipse class="l" cx="539.25" cy="218.16" rx="1.15" ry="1.35" transform="rotate(0 539.25 218.16)" />
<ellipse class="l" cx="543.93" cy="221.69" rx="1.15" ry="1.35" transform="rotate(0 543.93 221.69)" />
<ellipse class="l" cx="503.36" cy="234.18" rx="1.15" ry="1.35" transform="rotate(0 503.36 234.18)" />
<ellipse class="l" cx="530.62" cy="235.01" rx="1.15" ry="1.35" transform="rotate(0 530.62 235.01)" />
<ellipse class="l" cx="459.34" cy="211.17" rx="1.1" ry="1.3" transform="rotate(0 459.34 211.17)" />
<ellipse class="l" cx="463.71" cy="210.55" rx="1.1" ry="1.3" transform="rotate(0 463.71 210.55)" />
<ellipse class="l" cx="473.7" cy="216.79" rx="1.1" ry="1.3" transform="rotate(0 473.7 216.79)" />
<ellipse class="l" cx="488.05" cy="225.53" rx="1.1" ry="1.3" transform="rotate(0 488.05 225.53)" />
<ellipse class="l" cx="503.66" cy="234.27" rx="1.1" ry="1.3" transform="rotate(0 503.66 234.27)" />
<ellipse class="w" cx="474.2" cy="169.6" rx="5.6" ry="3.6" transform="rotate(22 474.2 169.6)" />
<ellipse class="l" cx="474.4" cy="169.0" rx="4.2" ry="2.5" transform="rotate(22 474.4 169.0)" style="stroke-width:1.6"/>
<ellipse class="l" cx="474.6" cy="168.8" rx="2.4" ry="1.3" transform="rotate(22 474.6 168.8)" />
<path class="l" d="M468.8,171.2 L469.2,175.2" />
<path class="l" d="M479.6,172.0 L480,175.6" />
<path class="l" d="M463.34,181.34 C463.91,181.22 465.68,180.30 466.77,180.61 C467.86,180.92 469.20,182.08 469.89,183.21 C470.58,184.34 471.10,185.98 470.93,187.37 C470.76,188.76 469.72,190.92 468.85,191.53 C467.98,192.14 466.25,191.10 465.73,191.01" style="stroke-width:1.7"/>
<path class="l" d="M463.34,181.34 C463.22,181.74 462.30,183.11 462.61,183.73 C462.92,184.35 464.78,184.86 465.21,185.08" />
<path class="l" d="M465.73,191.01 C465.64,190.61 464.91,189.14 465.21,188.62 C465.50,188.10 467.12,188.01 467.50,187.89" />
<ellipse class="l" cx="458.97" cy="186.85" rx="1.1" ry="1.3" transform="rotate(0 458.97 186.85)" />
<ellipse class="w" cx="452.9" cy="207.3" rx="3.5" ry="4.7" transform="rotate(-25 452.9 207.3)" />
<ellipse class="l" cx="452.9" cy="207.3" rx="2.2" ry="3.2" transform="rotate(-25 452.9 207.3)" />
<ellipse class="l" cx="453.2" cy="207.5" rx="1.2" ry="1.9" transform="rotate(-25 453.2 207.5)" />
<ellipse class="p" cx="197.6" cy="301.6" rx="20" ry="11.4" transform="rotate(6 197.6 301.6)" />
<ellipse class="p" cx="228.2" cy="319.4" rx="20" ry="11.4" transform="rotate(6 228.2 319.4)" />
<ellipse class="p" cx="258.8" cy="336.8" rx="20" ry="11.4" transform="rotate(6 258.8 336.8)" />
<ellipse class="p" cx="289.4" cy="354.6" rx="20" ry="11.4" transform="rotate(6 289.4 354.6)" />
<path class="p" d="M183.30,289.10 C184.55,288.38 188.42,286.43 190.77,284.78 C193.12,283.13 195.08,280.87 197.43,279.22 C199.78,277.57 201.44,275.62 204.90,274.90 C208.36,274.18 215.98,274.90 218.20,274.90" />
<path class="p" d="M218.20,274.90 C219.32,275.47 223.27,277.18 224.90,278.30 C226.53,279.42 228.48,280.62 228.00,281.60 C227.52,282.58 224.92,283.97 222.00,284.20 C219.08,284.43 212.58,282.60 210.50,283.00 C208.42,283.40 208.17,285.53 209.50,286.60 C210.83,287.67 216.08,288.30 218.50,289.40 C220.92,290.50 222.72,293.30 224.00,293.20 C225.28,293.10 225.83,289.53 226.20,288.80" />
<path class="p" d="M226.20,288.80 C227.25,287.90 229.95,284.43 232.50,283.40 C235.05,282.37 238.75,282.18 241.50,282.60 C244.25,283.02 247.62,282.73 249.00,285.90 C250.38,289.07 249.67,298.98 249.80,301.60" />
<path class="l" d="M240.5,286.8 L241,300.4" />
<path class="l" d="M243.2,288.2 L243.6,301.6" />
<path class="p" d="M232.50,291.80 C233.48,291.17 237.07,288.83 238.40,288.00 C239.73,287.17 240.15,287.00 240.50,286.80" />
<path class="p" d="M183.30,289.10 C182.14,289.60 178.52,290.83 176.34,292.09 C174.16,293.35 172.45,295.50 170.23,296.68 C168.00,297.86 165.26,298.05 162.99,299.14 C160.72,300.23 158.48,301.56 156.60,303.20 C154.72,304.83 153.08,306.86 151.68,308.95 C150.28,311.04 149.62,313.66 148.22,315.75 C146.82,317.84 145.09,318.88 143.30,321.50 C141.51,324.12 138.47,329.83 137.50,331.50" />
<path class="p" d="M249.80,301.60 C250.77,302.41 253.42,305.26 255.63,306.45 C257.84,307.64 260.93,307.42 263.05,308.75 C265.17,310.08 266.23,313.12 268.35,314.45 C270.47,315.78 273.56,315.56 275.77,316.75 C277.98,317.94 279.66,320.04 281.60,321.60 C283.54,323.16 285.23,325.06 287.42,326.13 C289.61,327.20 292.63,326.83 294.74,328.05 C296.85,329.27 297.95,332.23 300.06,333.45 C302.17,334.67 305.19,334.30 307.38,335.37 C309.57,336.44 310.78,338.16 313.20,339.90 C315.62,341.63 318.82,344.11 321.87,345.78 C324.92,347.45 329.89,349.21 331.50,349.90" />
<path class="p" d="M331.5,349.9 L331.5,391.6" />
<path class="p" d="M331.50,391.60 C333.00,394.00 338.00,401.55 340.50,406.00 C343.00,410.45 345.22,412.93 346.50,418.30 C347.78,423.67 349.28,433.78 348.20,438.20 C347.12,442.62 344.17,442.30 340.00,444.80 C335.83,447.30 326.00,451.80 323.20,453.20" />
<path class="p" d="M323.2,453.2 L289.9,468.2 L289.1,476.5 L266.6,486.5 L265.8,463.2" />
<path class="p" d="M158.30,308.20 C159.42,307.93 162.50,306.03 165.00,306.60 C167.50,307.17 171.63,310.08 173.30,311.60 C174.97,313.12 173.59,314.39 175.00,315.70 C176.41,317.01 179.37,318.52 181.77,319.46 C184.17,320.39 187.03,320.27 189.38,321.31 C191.73,322.35 193.57,324.56 195.87,325.71 C198.17,326.86 201.98,327.08 203.20,328.20 C204.42,329.31 202.03,330.93 203.20,332.40 C204.37,333.87 207.71,335.79 210.22,337.03 C212.73,338.27 215.81,338.49 218.26,339.83 C220.71,341.17 222.49,343.73 224.94,345.07 C227.39,346.41 230.47,346.63 232.98,347.87 C235.49,349.11 237.91,350.96 240.00,352.50 C242.09,354.04 243.50,355.86 245.55,357.11 C247.60,358.36 250.30,358.64 252.28,359.98 C254.26,361.32 255.46,363.83 257.44,365.17 C259.42,366.51 262.18,366.69 264.16,368.03 C266.14,369.37 267.34,371.88 269.32,373.22 C271.30,374.56 274.00,374.84 276.05,376.09 C278.10,377.34 280.68,379.93 281.60,380.70" />
<path class="p" d="M281.6,380.7 L331.5,352.4" />
<path class="p" d="M281.6,380.7 L281.9,452" />
<path class="p" d="M137.50,331.50 C137.77,332.92 138.68,335.82 139.10,340.00 C139.52,344.18 138.75,348.83 140.00,356.60 C141.25,364.37 145.63,378.27 146.60,386.60 C147.57,394.93 146.63,402.17 145.80,406.60 C144.97,411.03 143.82,411.27 141.60,413.20 C139.38,415.13 134.02,417.37 132.50,418.20" />
<path class="p" d="M158.3,308.2 L147.5,325.0 L146.2,345" />
<ellipse class="l" cx="140.2" cy="335.6" rx="3.6" ry="6.2" transform="rotate(-20 140.2 335.6)" />
<path class="l" d="M141.8,329.8 L146.8,327.4" />
<path class="l" d="M142.2,341.6 L148.0,338.6" />
<path class="l" d="M132.1,418.4 L212.2,465.2 L238.2,463.2 L266.3,479.8" />
<path class="l" d="M132.1,418.4 L132.1,422.8 L213.2,469.8 L238.2,467.3 L267.3,486.2" />
<path class="p" d="M145.8,406.6 L232,452 L265.8,468.5" />
<path class="d" d="M150.8,400.8 L172.4,411.6 L172.4,428.2 L150.8,418.2 Z" />
<path class="d" d="M177.4,416.6 L203.2,429.9 L203.2,446.5 L177.4,433.2 Z" />
<path class="d" d="M207.4,434 L234,448.2 L234,464 L207.4,449.9 Z" />
<path class="d" d="M240,453 L262,464 L262,480 L240,469 Z" />
<path class="l" d="M183.06,376.19 L275.65,424.88" />
<path class="l" d="M194.5,392.42 L273.57,432.37" />
<path class="l" d="M198.66,400.74 L267.33,438.2" />
<path class="l" d="M174.74,390.34 L192.42,399.7" />
<path class="p" d="M153.93,374.74 L182.02,386.6" />
<path class="p" d="M154.97,386.18 L263.17,442.36" />
<path class="p" d="M150.81,392.42 L265.25,451.72" />
<path class="l" d="M275.65,424.88 L281.89,421.55 L281.89,435.08" />
<path class="l" d="M273.57,432.37 L280.23,429.04" />
<path class="l" d="M267.33,438.2 L275.65,434.04" />
<path class="p" d="M275.65,424.88 L273.99,440.28" />
<path class="l" d="M180.8,376.1 L169.60000000000002,395.4" />
<path class="l" d="M184.0,377.1 L172.8,396.4" />
<ellipse class="w" cx="182.4" cy="374.1" rx="2.8" ry="4.0" transform="rotate(-25 182.4 374.1)" />
<ellipse class="w" cx="170.8" cy="397.4" rx="2.8" ry="4.0" transform="rotate(-25 170.8 397.4)" />
<path class="l" d="M207.5,391.9 L196.20000000000002,411.2" />
<path class="l" d="M210.7,392.9 L199.4,412.2" />
<ellipse class="w" cx="209.1" cy="389.9" rx="2.8" ry="4.0" transform="rotate(-25 209.1 389.9)" />
<ellipse class="w" cx="197.4" cy="413.2" rx="2.8" ry="4.0" transform="rotate(-25 197.4 413.2)" />
<path class="l" d="M241.8,411.1 L230.0,419.8" />
<path class="l" d="M245.0,412.1 L233.2,420.8" />
<ellipse class="w" cx="243.4" cy="409.1" rx="2.8" ry="4.0" transform="rotate(-25 243.4 409.1)" />
<ellipse class="w" cx="231.2" cy="421.8" rx="2.8" ry="4.0" transform="rotate(-25 231.2 421.8)" />
<ellipse class="w" cx="159.5" cy="362.0" rx="2.8" ry="3.8" transform="rotate(-25 159.5 362.0)" />
<ellipse class="w" cx="153.0" cy="376.0" rx="2.6" ry="3.4" transform="rotate(-25 153.0 376.0)" />
<path class="l" d="M158.0,365.5 L154.0,372.8" />
<ellipse class="l" cx="185.6" cy="405.0" rx="8.2" ry="4.4" transform="rotate(38 185.6 405.0)" />
<ellipse class="w" cx="232.2" cy="433.2" rx="2.8" ry="4.0" transform="rotate(-25 232.2 433.2)" />
<ellipse class="w" cx="243" cy="440" rx="2.6" ry="3.8" transform="rotate(-20 243 440)" />
<ellipse class="w" cx="251" cy="444.5" rx="2.6" ry="3.8" transform="rotate(-20 251 444.5)" />
<ellipse class="w" cx="259.5" cy="451" rx="2.6" ry="3.8" transform="rotate(-20 259.5 451)" />
<path class="d" d="M179.9,332 L181.6,361.6 L193.2,367.5 L199.0,338 Z" />
<ellipse class="l" cx="187.6" cy="347.5" rx="5.4" ry="8.6" transform="rotate(-12 187.6 347.5)" />
<path class="d" d="M208.2,342.5 L211.6,379.9 L223.2,384.9 L231.5,355 Z" />
<ellipse class="l" cx="218.4" cy="365" rx="5.4" ry="8.6" transform="rotate(-12 218.4 365)" />
<path class="d" d="M239.8,361.6 L243.2,396.5 L254.8,402.0 L262.5,372 Z" />
<ellipse class="l" cx="250.2" cy="382.5" rx="5.4" ry="8.6" transform="rotate(-12 250.2 382.5)" />
<path class="d" d="M162,318 L158.8,345 L166,338 L170.5,322.0 Z" />
<ellipse class="p" cx="266.5" cy="383.5" rx="3.0" ry="4.6" transform="rotate(-15 266.5 383.5)" />
<ellipse class="l" cx="306.6" cy="441.6" rx="9.4" ry="13.2" transform="rotate(28 306.6 441.6)" />
<ellipse class="l" cx="306.0" cy="441.2" rx="7.0" ry="10.6" transform="rotate(28 306.0 441.2)" />
<path class="p" d="M290.50,452.40 C290.00,450.85 292.33,449.90 293.50,446.50 C294.67,443.10 294.92,435.35 297.50,432.00 C300.08,428.65 305.50,426.98 309.00,426.40 C312.50,425.82 316.53,427.07 318.50,428.50 C320.47,429.93 321.13,431.33 320.80,435.00 C320.47,438.67 318.97,446.75 316.50,450.50 C314.03,454.25 309.33,456.62 306.00,457.50 C302.67,458.38 299.08,456.65 296.50,455.80 C293.92,454.95 291.00,453.95 290.50,452.40 Z" />
<ellipse class="l" cx="276.5" cy="470" rx="4.2" ry="6.2" transform="rotate(25 276.5 470)" />
<path class="p" d="M270.50,480.20 C270.12,478.50 267.95,473.12 268.20,470.00 C268.45,466.88 269.87,463.08 272.00,461.50 C274.13,459.92 278.53,459.72 281.00,460.50 C283.47,461.28 285.55,464.03 286.80,466.20 C288.05,468.37 288.22,472.28 288.50,473.50" />
<ellipse class="p" cx="334.2" cy="434.5" rx="4.6" ry="6.4" transform="rotate(20 334.2 434.5)" />
<path class="p" d="M326.00,421.50 C327.75,420.17 333.25,413.67 336.50,413.50 C339.75,413.33 344.00,419.33 345.50,420.50" />
<path class="p" d="M321.5,412 L322,452" />
<path class="p" d="M290,428 L321,411 L331.5,395" />
<ellipse class="p" cx="308" cy="379.5" rx="3.2" ry="4.6" transform="rotate(25 308 379.5)" />
<ellipse class="p" cx="323.2" cy="372.2" rx="2.6" ry="4.2" transform="rotate(0 323.2 372.2)" />
<path class="p" d="M317.5,362.5 L326.5,357.5 L326.5,367.0 L317.5,372.0 Z" />
<path class="p" d="M284.50,386.00 C285.67,385.25 289.50,383.42 291.50,381.50 C293.50,379.58 296.00,374.00 296.50,374.50 C297.00,375.00 295.42,380.92 294.50,384.50 C293.58,388.08 291.17,392.67 291.00,396.00 C290.83,399.33 293.75,401.50 293.50,404.50 C293.25,407.50 291.08,412.08 289.50,414.00 C287.92,415.92 284.92,415.67 284.00,416.00" />
<path class="p" d="M300.50,401.00 C299.83,400.00 296.67,397.17 296.50,395.00 C296.33,392.83 298.17,388.92 299.50,388.00 C300.83,387.08 303.58,387.92 304.50,389.50 C305.42,391.08 305.67,395.58 305.00,397.50 C304.33,399.42 301.25,400.42 300.50,401.00" />
<path class="p" d="M309.00,397.50 C309.75,395.92 311.50,390.83 313.50,388.00 C315.50,385.17 318.83,381.17 321.00,380.50 C323.17,379.83 325.75,382.08 326.50,384.00 C327.25,385.92 326.92,389.92 325.50,392.00 C324.08,394.08 319.25,395.75 318.00,396.50" />
<path class="p" d="M298.00,416.00 C299.33,415.42 303.33,414.08 306.00,412.50 C308.67,410.92 311.33,408.00 314.00,406.50 C316.67,405.00 320.67,404.00 322.00,403.50" />
<ellipse class="l" cx="334.6" cy="414.6" rx="1.6" ry="2.4" transform="rotate(0 334.6 414.6)" />
<ellipse class="l" cx="328.2" cy="392.4" rx="2.2" ry="3.0" transform="rotate(0 328.2 392.4)" />
<path class="p" d="M272.00,392.00 C272.83,393.17 276.58,396.33 277.00,399.00 C277.42,401.67 274.25,404.83 274.50,408.00 C274.75,411.17 278.42,414.67 278.50,418.00 C278.58,421.33 275.58,426.33 275.00,428.00" />
<ellipse class="p" cx="246" cy="378.6" rx="5.2" ry="7.6" transform="rotate(-15 246 378.6)" />
<path class="p" d="M241.50,391.00 C241.92,387.67 241.50,373.42 244.00,371.00 C246.50,368.58 254.17,373.00 256.50,376.50 C258.83,380.00 258.92,388.25 258.00,392.00 C257.08,395.75 252.17,397.83 251.00,399.00" />
<path class="l" d="M375.9442308010283,426.6082065084119 L385.67429869916117,431.739071805584" />
<path class="l" d="M379.6757691989717,419.5317934915881 L389.40583709710455,424.66265878876015" />
<ellipse class="w" cx="377.81" cy="423.07" rx="2.0" ry="4.0" transform="rotate(27.803605211817764 377.81 423.07)" style="stroke-width:1.4"/>
<ellipse class="l" cx="379.7560135796266" cy="424.0961730594344" rx="2.0" ry="4.0" transform="rotate(27.803605211817764 379.7560135796266 424.0961730594344)" style="stroke-width:.9"/>
<ellipse class="l" cx="381.52511683383256" cy="425.02905765892024" rx="2.0" ry="4.0" transform="rotate(27.803605211817764 381.52511683383256 425.02905765892024)" style="stroke-width:.9"/>
<ellipse class="l" cx="383.2942200880385" cy="425.96194225840605" rx="2.0" ry="4.0" transform="rotate(27.803605211817764 383.2942200880385 425.96194225840605)" style="stroke-width:.9"/>
<ellipse class="l" cx="385.0633233422445" cy="426.8948268578919" rx="2.0" ry="4.0" transform="rotate(27.803605211817764 385.0633233422445 426.8948268578919)" style="stroke-width:.9"/>
<ellipse class="w" cx="387.54006789813286" cy="428.2008652971721" rx="2.0" ry="4.0" transform="rotate(27.803605211817764 387.54006789813286 428.2008652971721)" />
<path class="l" d="M386.32731791880127,430.5006995276398 L390.7500760543162,432.8329110263544" />
<path class="l" d="M388.75281787746445,425.9010310667043 L393.1755760129794,428.2332425654189" />
<ellipse class="w" cx="390.19372277944177" cy="429.6001921964008" rx="1.6" ry="3.4" transform="rotate(27.803605211817764 390.19372277944177 429.6001921964008)" />
<ellipse class="w" cx="392.40510184719926" cy="430.76629794575814" rx="1.8" ry="3.8" transform="rotate(27.803605211817764 392.40510184719926 430.76629794575814)" style="stroke-width:1.3"/>
<ellipse class="w" cx="396.3855841691627" cy="432.86528829460127" rx="2.4" ry="4.6" transform="rotate(27.803605211817764 396.3855841691627 432.86528829460127)" />
<ellipse class="w" cx="398.15468742336867" cy="433.7981728940871" rx="2.4" ry="4.6" transform="rotate(27.803605211817764 398.15468742336867 433.7981728940871)" />
<path class="l" d="M397.12851436393424,435.7441864737137 L403.3203757536551,439.00928257191407" />
<path class="l" d="M399.1808604828031,431.8521593144605 L405.372721872524,435.1172554126609" />
<ellipse class="w" cx="401.6928939317806" cy="435.6639420930587" rx="1.5" ry="3.0" transform="rotate(27.803605211817764 401.6928939317806 435.6639420930587)" />
<ellipse class="w" cx="404.78882462664103" cy="437.296490142159" rx="1.6" ry="3.2" transform="rotate(27.803605211817764 404.78882462664103 437.296490142159)" style="stroke-width:1.3"/>
<ellipse class="l" cx="405.0541901147719" cy="437.4364228320818" rx="0.7" ry="1.4" transform="rotate(27.803605211817764 405.0541901147719 437.4364228320818)" />
<path class="k" d="M308.24,478.19 L315.73,474.86 L326.55,481.19 L334.04,478.19 L332.54,488.51 L314.23,489.17 L320.23,485.18 Z" />
<path class="k" d="M158.71,737.59 L165.78,739.67 L176.19,734.05 L184.3,737.38 L178.27,742.79 L179.52,748.2 L162.04,747.37 Z" />
<path class="w" d="M512.44,409.60 C513.74,409.43 514.63,410.43 515.77,411.93 C516.91,413.43 518.41,416.37 519.27,418.59 C520.13,420.81 521.04,423.09 520.93,425.25 C520.82,427.41 519.65,429.63 518.60,431.57 C517.55,433.51 515.77,436.29 514.61,436.90 C513.45,437.51 512.72,436.67 511.61,435.23 C510.50,433.79 508.89,430.79 507.95,428.24 C507.01,425.69 505.95,422.47 505.95,419.92 C505.95,417.37 506.87,414.65 507.95,412.93 C509.03,411.21 511.14,409.77 512.44,409.60 Z" />
<ellipse class="l" cx="512.94" cy="422.92" rx="3.6" ry="5.4" transform="rotate(-15 512.94 422.92)" />
<ellipse class="l" cx="513.11" cy="422.92" rx="2.6" ry="4.2" transform="rotate(-15 513.11 422.92)" />
<ellipse class="l" cx="512.44" cy="411.93" rx="1.2" ry="1.5" transform="rotate(0 512.44 411.93)" />
<ellipse class="l" cx="513.94" cy="433.57" rx="1.2" ry="1.5" transform="rotate(0 513.94 433.57)" />
<ellipse class="k" cx="512.61" cy="409.93" rx="2.0" ry="1.3" transform="rotate(0 512.61 409.93)" />
<path class="l" d="M518.27,409.27 L539.91,397.62" />
<path class="l" d="M521.6,418.26 L536.91,409.93" />
<path class="w" d="M548.23,395.95 C549.06,395.78 551.83,394.50 553.22,394.95 C554.61,395.39 555.94,396.12 556.55,398.62 C557.16,401.12 556.88,405.82 556.88,409.93 C556.88,414.04 556.05,420.06 556.55,423.25 C557.05,426.44 557.66,427.07 559.88,429.07 C562.10,431.07 566.40,433.15 569.87,435.23 C573.34,437.31 578.31,439.67 580.69,441.56 C583.08,443.45 583.99,445.00 584.18,446.55 C584.37,448.10 583.13,450.10 581.85,450.88 C580.57,451.66 579.63,452.54 576.52,451.21 C573.41,449.88 567.37,445.47 563.21,442.89 C559.05,440.31 554.28,437.89 551.56,435.73 C548.84,433.57 547.79,432.82 546.90,429.91 C546.01,427.00 546.34,420.20 546.23,418.26" />
<path class="l" d="M576.52,451.21 C576.24,450.43 574.72,447.99 574.86,446.55 C575.00,445.11 576.39,443.39 577.36,442.56 C578.33,441.73 580.13,441.73 580.69,441.56" />
<path class="l" d="M551.23,409.93 L556.55,408.6" />
<path class="w" d="M545.73,391.29 C547.06,391.29 548.42,392.57 549.56,394.29 C550.70,396.01 551.95,399.23 552.56,401.61 C553.17,404.00 553.66,406.38 553.22,408.60 C552.78,410.82 551.05,413.16 549.89,414.93 C548.73,416.70 547.34,418.81 546.23,419.25 C545.12,419.69 544.29,419.14 543.24,417.59 C542.19,416.04 540.58,412.59 539.91,409.93 C539.24,407.27 538.96,404.22 539.24,401.61 C539.52,399.00 540.49,396.01 541.57,394.29 C542.65,392.57 544.40,391.29 545.73,391.29 Z" />
<path class="w" d="M542.90,391.96 C544.23,391.96 545.45,393.23 546.56,394.95 C547.67,396.67 548.95,399.89 549.56,402.28 C550.17,404.67 550.67,407.05 550.23,409.27 C549.79,411.49 548.06,413.81 546.90,415.59 C545.74,417.37 544.35,419.48 543.24,419.92 C542.13,420.37 541.30,419.81 540.24,418.26 C539.18,416.71 537.57,413.26 536.91,410.60 C536.25,407.94 535.97,404.89 536.25,402.28 C536.53,399.67 537.47,396.67 538.58,394.95 C539.69,393.23 541.57,391.96 542.90,391.96 Z" />
<ellipse class="l" cx="541.9" cy="405.94" rx="3.0" ry="4.8" transform="rotate(-15 541.9 405.94)" />
<ellipse class="l" cx="542.57" cy="406.6" rx="2.0" ry="3.4" transform="rotate(-15 542.57 406.6)" />
<ellipse class="l" cx="542.57" cy="395.62" rx="1.1" ry="1.4" transform="rotate(0 542.57 395.62)" />
<ellipse class="l" cx="543.24" cy="416.59" rx="1.1" ry="1.4" transform="rotate(0 543.24 416.59)" />
<ellipse class="l" cx="537.58" cy="403.61" rx="1.6" ry="2.6" transform="rotate(-15 537.58 403.61)" />
<path class="l" d="M554,387.6 L548.4,390.6"/>
<path class="l" d="M551.56,455.21 C552.39,455.65 555.66,456.76 556.55,457.87 C557.44,458.98 557.54,460.81 556.88,461.86 C556.22,462.91 553.28,463.80 552.56,464.19" />
<path class="w" d="M544.23,450.88 C545.62,450.71 547.06,451.71 548.23,453.21 C549.40,454.71 550.68,457.65 551.23,459.87 C551.78,462.09 551.95,464.30 551.56,466.52 C551.17,468.74 549.94,471.18 548.89,473.18 C547.84,475.18 546.34,477.84 545.23,478.51 C544.12,479.18 543.29,478.62 542.24,477.18 C541.19,475.74 539.63,472.46 538.91,469.85 C538.19,467.24 537.74,464.14 537.91,461.53 C538.08,458.92 538.86,455.98 539.91,454.21 C540.96,452.44 542.84,451.05 544.23,450.88 Z" />
<path class="w" d="M541.90,451.21 C543.23,451.10 544.46,452.32 545.57,453.87 C546.68,455.42 548.01,458.31 548.56,460.53 C549.11,462.75 549.28,464.97 548.89,467.19 C548.50,469.41 547.28,471.91 546.23,473.85 C545.18,475.79 543.68,478.23 542.57,478.84 C541.46,479.45 540.62,478.95 539.57,477.51 C538.52,476.07 536.91,472.80 536.25,470.19 C535.59,467.58 535.36,464.47 535.58,461.86 C535.80,459.25 536.53,456.32 537.58,454.54 C538.63,452.76 540.57,451.32 541.90,451.21 Z" />
<ellipse class="l" cx="541.9" cy="464.86" rx="2.8" ry="4.6" transform="rotate(-15 541.9 464.86)" />
<ellipse class="l" cx="542.57" cy="465.53" rx="1.8" ry="3.2" transform="rotate(-15 542.57 465.53)" />
<ellipse class="l" cx="541.9" cy="454.54" rx="1.1" ry="1.4" transform="rotate(0 541.9 454.54)" />
<ellipse class="l" cx="542.9" cy="475.51" rx="1.1" ry="1.4" transform="rotate(0 542.9 475.51)" />
<ellipse class="p" cx="205.4" cy="630.6" rx="16.6" ry="9.7" transform="rotate(-4 205.4 630.6)" />
<ellipse class="p" cx="231.0" cy="615.4" rx="16.6" ry="9.7" transform="rotate(-4 231.0 615.4)" />
<ellipse class="p" cx="256.6" cy="600.2" rx="16.6" ry="9.7" transform="rotate(-4 256.6 600.2)" />
<ellipse class="p" cx="282.2" cy="585.0" rx="16.6" ry="9.7" transform="rotate(-4 282.2 585.0)" />
<path class="p" d="M167.50,626.60 C169.01,625.86 173.63,623.82 176.55,622.17 C179.47,620.52 182.17,618.08 185.00,616.70 C187.83,615.32 190.75,615.03 193.52,613.91 C196.29,612.79 198.85,611.28 201.60,610.00 C204.35,608.72 207.36,607.73 210.02,606.20 C212.68,604.67 214.92,602.33 217.58,600.80 C220.24,599.27 223.47,598.11 226.00,597.00 C228.53,595.89 230.66,595.37 232.78,594.16 C234.90,592.95 236.55,590.85 238.72,589.72 C240.89,588.60 243.57,588.45 245.78,587.41 C247.99,586.37 250.96,584.15 252.00,583.50" />
<path class="p" d="M167.5,626.6 L209.9,649.1" />
<path class="p" d="M209.90,649.10 C211.24,648.32 215.43,646.23 217.93,644.43 C220.43,642.63 222.39,640.18 224.90,638.30 C227.41,636.42 230.48,635.11 233.00,633.16 C235.52,631.21 237.66,628.11 240.00,626.60 C242.34,625.09 244.91,625.33 247.06,624.09 C249.21,622.85 250.70,620.26 252.92,619.15 C255.14,618.04 258.16,618.56 260.38,617.45 C262.60,616.34 264.09,613.75 266.24,612.51 C268.39,611.27 270.86,610.89 273.30,610.00 C275.75,609.11 278.58,608.51 280.91,607.17 C283.24,605.82 284.96,603.27 287.29,601.93 C289.62,600.58 292.25,600.25 294.90,599.10 C297.55,597.95 301.82,595.68 303.20,595.00" />
<path class="p" d="M253.30,575.00 C253.85,573.62 254.38,568.65 256.60,566.70 C258.82,564.75 262.98,563.30 266.60,563.30 C270.22,563.30 275.80,565.45 278.30,566.70 C280.80,567.95 278.55,568.87 281.60,570.80 C284.65,572.73 293.00,576.50 296.60,578.30 C300.20,580.10 300.43,580.35 303.20,581.60 C305.97,582.85 310.83,584.27 313.20,585.80 C315.57,587.33 316.70,589.97 317.40,590.80" />
<path class="p" d="M253.30,575.00 C253.50,575.83 254.72,578.58 254.50,580.00 C254.28,581.42 252.42,582.92 252.00,583.50" />
<path class="p" d="M262.50,568.80 C263.75,568.30 267.67,565.68 270.00,565.80 C272.33,565.92 276.08,568.13 276.50,569.50 C276.92,570.87 274.58,573.17 272.50,574.00 C270.42,574.83 265.75,573.80 264.00,574.50 C262.25,575.20 262.33,577.58 262.00,578.20" />
<path class="l" d="M264.5,564.2 L272,564.4" />
<path class="p" d="M209.9,649.1 L209.9,704" style="stroke-width:1.2"/>
<path class="p" d="M167.50,626.60 C167.58,629.67 167.87,639.43 168.00,645.00 C168.13,650.57 169.63,656.40 168.30,660.00 C166.97,663.60 162.22,663.27 160.00,666.60 C157.78,669.93 157.00,676.68 155.00,680.00 C153.00,683.32 150.22,684.57 148.00,686.50 C145.78,688.43 142.75,690.75 141.70,691.60" />
<path class="l" d="M141.7,691.6 L141.7,695 L220.5,740.2 L225,738.4" style="stroke-dasharray:14 2 2 2;stroke-width:.95"/>
<path class="l" d="M141.7,691.6 L221.5,736.5" style="stroke-dasharray:18 2 2 2;stroke-width:.95"/>
<ellipse class="p" cx="189.1" cy="647.5" rx="3.6" ry="5.0" transform="rotate(-20 189.1 647.5)" />
<ellipse class="p" cx="183.3" cy="662.4" rx="3.6" ry="5.0" transform="rotate(-20 183.3 662.4)" />
<path class="l" d="M199.5,648 L205.5,651.6 L205.5,660.4 L199.5,656.6 Z" />
<path class="d" d="M190.50,661.00 C191.42,660.75 193.75,659.42 196.00,659.50 C198.25,659.58 202.27,660.25 204.00,661.50 C205.73,662.75 206.15,664.83 206.40,667.00 C206.65,669.17 206.73,673.17 205.50,674.50 C204.27,675.83 201.33,675.42 199.00,675.00 C196.67,674.58 192.75,672.50 191.50,672.00" />
<path class="p" d="M170.80,637.00 C171.42,637.67 174.22,639.17 174.50,641.00 C174.78,642.83 172.12,645.83 172.50,648.00 C172.88,650.17 176.55,651.92 176.80,654.00 C177.05,656.08 174.47,659.42 174.00,660.50" />
<path class="p" d="M166.00,676.00 C166.58,675.33 167.75,672.58 169.50,672.00 C171.25,671.42 174.50,671.83 176.50,672.50 C178.50,673.17 179.92,675.92 181.50,676.00 C183.08,676.08 184.58,672.67 186.00,673.00 C187.42,673.33 189.58,676.08 190.00,678.00 C190.42,679.92 188.75,683.42 188.50,684.50" />
<path class="l" d="M177.5,674 L177.8,688" style="stroke:#777"/>
<path class="p" d="M193.50,681.50 C194.08,682.33 195.67,686.00 197.00,686.50 C198.33,687.00 200.47,683.83 201.50,684.50 C202.53,685.17 202.28,689.08 203.20,690.50 C204.12,691.92 206.37,692.58 207.00,693.00" />
<ellipse class="p" cx="204.8" cy="680.2" rx="2.2" ry="3.4" transform="rotate(-15 204.8 680.2)" />
<path class="l" d="M156.60,687.50 C157.33,685.75 158.35,684.83 161.00,685.50 C163.65,686.17 170.17,689.83 172.50,691.50 C174.83,693.17 174.58,693.42 175.00,695.50 C175.42,697.58 175.67,702.17 175.00,704.00 C174.33,705.83 173.67,707.08 171.00,706.50 C168.33,705.92 161.40,702.25 159.00,700.50 C156.60,698.75 157.00,698.17 156.60,696.00 C156.20,693.83 155.87,689.25 156.60,687.50 Z" />
<path class="l" d="M160.00,690.20 C160.42,688.78 161.92,689.00 163.50,689.50 C165.08,690.00 168.33,691.45 169.50,693.20 C170.67,694.95 171.08,698.62 170.50,700.00 C169.92,701.38 167.58,701.83 166.00,701.50 C164.42,701.17 162.00,699.88 161.00,698.00 C160.00,696.12 159.58,691.62 160.00,690.20 Z" />
<ellipse class="l" cx="189.4" cy="701.6" rx="7.8" ry="12.6" transform="rotate(-27 189.4 701.6)" />
<ellipse class="l" cx="190.6" cy="701.0" rx="6.0" ry="10.6" transform="rotate(-27 190.6 701.0)" />
<path class="p" d="M176.00,703.00 C176.25,704.58 176.08,710.47 177.50,712.50 C178.92,714.53 182.00,714.20 184.50,715.20 C187.00,716.20 191.17,717.95 192.50,718.50" />
<path class="l" d="M175.6,697 L176,712" />
<path class="p" d="M203.50,716.00 C204.25,713.83 206.67,712.92 208.50,712.50 C210.33,712.08 212.55,712.50 214.50,713.50 C216.45,714.50 219.12,715.83 220.20,718.50 C221.28,721.17 221.62,727.00 221.00,729.50 C220.38,732.00 218.50,733.25 216.50,733.50 C214.50,733.75 211.08,732.33 209.00,731.00 C206.92,729.67 204.92,728.00 204.00,725.50 C203.08,723.00 202.75,718.17 203.50,716.00 Z" />
<ellipse class="l" cx="212.0" cy="722.6" rx="4.0" ry="5.4" transform="rotate(-15 212.0 722.6)" />
<ellipse class="l" cx="206.2" cy="704.4" rx="1.5" ry="2.2" transform="rotate(0 206.2 704.4)" />
<path class="l" d="M219.5,714 L219.8,736" />
<path class="l" d="M225,738.4 L318.2,688.3 L324.9,680 L324.9,663.3" />
<path class="l" d="M221.5,736.5 L224.8,734.6" />
<path class="p" d="M224.8,734.6 L316.5,685.6" />
<path class="p" d="M215,708.2 L289.9,670.8" />
<path class="p" d="M225,719.9 L298.2,681.6" />
<path class="p" d="M222,713.5 L296,676.2" />
<path class="l" d="M250.5,708.5 L250.5,721.5" />
<path class="l" d="M247.9,709.8 L253.1,707.2" />
<path class="l" d="M247.9,722.8 L253.1,720.2" />
<path class="d" d="M254.1,707.0 L254.1,720.0" />
<path class="l" d="M274.6,697.0 L274.6,710.0" />
<path class="l" d="M272.0,698.3 L277.20000000000005,695.7" />
<path class="l" d="M272.0,711.3 L277.20000000000005,708.7" />
<path class="d" d="M278.20000000000005,695.5 L278.20000000000005,708.5" />
<path class="l" d="M296.2,683.8 L296.2,696.8" />
<path class="l" d="M293.59999999999997,685.0999999999999 L298.8,682.5" />
<path class="l" d="M293.59999999999997,698.0999999999999 L298.8,695.5" />
<path class="d" d="M299.8,682.3 L299.8,695.3" />
<path class="l" d="M230,722 L230,735" />
<path class="l" d="M227.4,723.3 L232.6,720.7" />
<path class="l" d="M227.4,736.3 L232.6,733.7" />
<path class="d" d="M233.6,720.5 L233.6,733.5" />
<ellipse class="l" cx="236.6" cy="680" rx="2.2" ry="3.0" transform="rotate(-15 236.6 680)" />
<ellipse class="l" cx="259.9" cy="679.1" rx="2.2" ry="3.0" transform="rotate(-15 259.9 679.1)" />
<ellipse class="l" cx="254.8" cy="693" rx="2.2" ry="3.0" transform="rotate(-15 254.8 693)" />
<ellipse class="l" cx="282" cy="677" rx="2.2" ry="3.0" transform="rotate(-15 282 677)" />
<ellipse class="l" cx="219" cy="689.5" rx="2.2" ry="3.0" transform="rotate(-15 219 689.5)" />
<path class="l" d="M226,684.5 L234.5,680.6" />
<path class="l" d="M247,683.8 L257.8,679.6" />
<path class="l" d="M262.5,677.8 L267,674" />
<path class="l" d="M264.50,670.50 C265.17,671.17 267.17,674.42 268.50,674.50 C269.83,674.58 272.25,670.67 272.50,671.00 C272.75,671.33 270.42,675.58 270.00,676.50" />
<path class="l" d="M227.4,643.3 L248.2,633.3 L251.5,650 L233.2,660 Z" style="stroke-dasharray:9 2"/>
<path class="l" d="M253.3,629.9 L271.6,620.7 L274.1,637.4 L258.3,644.9 Z" style="stroke-dasharray:9 2"/>
<path class="l" d="M279.1,616.6 L289.9,610.8 L293.3,624.9 L284.1,629.9 Z" style="stroke-dasharray:9 2"/>
<path class="p" d="M210.50,664.00 C212.42,663.33 219.08,659.75 222.00,660.00 C224.92,660.25 225.44,665.17 228.00,665.50 C230.56,665.83 234.34,663.39 237.34,661.97 C240.34,660.55 243.39,657.25 246.00,657.00 C248.61,656.75 250.71,660.38 253.00,660.50 C255.29,660.62 257.67,658.98 259.72,657.70 C261.77,656.42 263.23,654.08 265.28,652.80 C267.33,651.52 269.71,651.88 272.00,650.00 C274.29,648.12 276.36,643.55 279.00,641.50 C281.64,639.45 285.04,639.21 287.87,637.71 C290.70,636.21 293.73,632.12 296.00,632.50 C298.27,632.88 300.58,638.75 301.50,640.00" />
<path class="p" d="M215.00,686.00 C215.83,684.42 217.75,679.00 220.00,676.50 C222.25,674.00 225.83,673.33 228.50,671.00 C231.17,668.67 234.75,663.92 236.00,662.50" />
<path class="p" d="M303.20,595.80 C303.35,598.98 303.53,608.67 304.10,614.90 C304.67,621.13 305.92,627.65 306.60,633.20 C307.28,638.75 306.27,644.03 308.20,648.20 C310.13,652.37 314.58,655.98 318.20,658.20 C321.82,660.42 326.28,663.17 329.90,661.50 C333.52,659.83 337.68,653.18 339.90,648.20 C342.12,643.22 343.20,635.77 343.20,631.60 C343.20,627.43 342.67,627.37 339.90,623.20 C337.13,619.03 330.22,611.03 326.60,606.60 C322.98,602.17 320.43,598.68 318.20,596.60 C315.97,594.52 314.03,594.52 313.20,594.10" />
<path class="p" d="M303.2,595.8 L308,593 L313.2,594.1" />
<ellipse class="l" cx="320.6" cy="634.4" rx="9.6" ry="17.0" transform="rotate(-24 320.6 634.4)" style="stroke-dasharray:30 2 2 2"/>
<ellipse class="l" cx="322.4" cy="634.0" rx="8.0" ry="15.2" transform="rotate(-24 322.4 634.0)" style="stroke-dasharray:26 40"/>
<path class="d" d="M316.5,597.0 L321.7,594.6 L324.9,598.6 L325.1,602.4" />
<path class="d" d="M319.3,600.4 L324.9,598.6" />
<path class="d" d="M321.8,603.6 L327.0,601.2 L330.2,605.2 L330.40000000000003,609.0" />
<path class="d" d="M324.6,607.0 L330.2,605.2" />
<path class="d" d="M327.1,610.2 L332.3,607.8000000000001 L335.5,611.8000000000001 L335.70000000000005,615.6" />
<path class="d" d="M329.90000000000003,613.6 L335.5,611.8000000000001" />
<path class="d" d="M332.4,616.8 L337.59999999999997,614.4 L340.79999999999995,618.4 L341.0,622.1999999999999" />
<path class="d" d="M335.2,620.1999999999999 L340.79999999999995,618.4" />
<path class="d" d="M337.7,623.4 L342.9,621.0 L346.09999999999997,625.0 L346.3,628.8" />
<path class="d" d="M340.5,626.8 L346.09999999999997,625.0" />
<path class="p" d="M343.2,631.6 L343.4,651 L332,662" />
<ellipse class="l" cx="307.5" cy="640.6" rx="1.2" ry="1.8" transform="rotate(0 307.5 640.6)" />
<ellipse class="l" cx="313.6" cy="604.4" rx="1.2" ry="1.8" transform="rotate(0 313.6 604.4)" />
<path class="l" d="M304.1,669.9 L323.2,662.4 L326.6,664 L326.6,681.5 L318.5,688" />
<path class="l" d="M293.5,671.5 L304.1,669.9" />
<path class="l" d="M306,672.5 L322.5,665.5 L322.5,680.5" />
<ellipse class="l" cx="313.2" cy="659.8" rx="1.7" ry="2.3" transform="rotate(-15 313.2 659.8)" />
<ellipse class="l" cx="319.9" cy="655.7" rx="1.7" ry="2.3" transform="rotate(-15 319.9 655.7)" />
<ellipse class="l" cx="299.9" cy="668.2" rx="1.7" ry="2.3" transform="rotate(-15 299.9 668.2)" />
<ellipse class="l" cx="319.9" cy="669" rx="1.7" ry="2.3" transform="rotate(-15 319.9 669)" />
<ellipse class="l" cx="297.4" cy="679" rx="1.7" ry="2.3" transform="rotate(-15 297.4 679)" />
<ellipse class="l" cx="294.2" cy="670.6" rx="1.7" ry="2.3" transform="rotate(-15 294.2 670.6)" />
<ellipse class="l" cx="300.2" cy="668.0" rx="2.9" ry="3.7" transform="rotate(-15 300.2 668.0)" />
<path class="p" d="M301.50,640.00 C301.83,642.00 302.17,648.58 303.50,652.00 C304.83,655.42 308.17,658.42 309.50,660.50 C310.83,662.58 311.17,663.83 311.50,664.50" />
<path class="l" d="M167.77,627.80 C167.86,629.10 167.94,633.65 168.29,635.60 C168.64,637.55 169.81,637.77 169.85,639.51 C169.89,641.25 168.68,643.84 168.55,646.01 C168.42,648.18 169.24,650.56 169.07,652.51 C168.90,654.46 168.31,656.24 167.51,657.71 C166.71,659.18 165.43,660.14 164.26,661.35 C163.09,662.56 161.42,663.47 160.49,664.99 C159.56,666.51 159.49,668.60 158.67,670.46 C157.85,672.33 156.24,674.06 155.55,676.18 C154.86,678.30 155.38,681.12 154.51,683.20 C153.64,685.28 152.07,687.49 150.34,688.66 C148.61,689.83 145.14,689.96 144.10,690.22" style="stroke-dasharray:7 1.4;stroke-width:1.05"/>
<path class="l" d="M172.71,631.96 C173.58,632.35 176.78,633.26 177.91,634.30 C179.04,635.34 180.03,637.12 179.47,638.21 C178.91,639.30 175.61,639.51 174.53,640.81 C173.45,642.11 172.58,644.45 172.97,646.01 C173.36,647.57 176.22,648.26 176.87,650.17 C177.52,652.08 177.52,655.54 176.87,657.45 C176.22,659.36 174.05,661.35 172.97,661.61 C171.89,661.87 170.80,659.44 170.37,659.01" style="stroke-dasharray:7 1.4;stroke-width:1.05"/>
<path class="l" d="M165.17,681.12 C165.34,680.30 165.39,677.44 166.21,676.18 C167.03,674.92 168.38,674.23 170.11,673.58 C171.84,672.93 174.83,672.28 176.61,672.28 C178.39,672.28 179.21,672.76 180.77,673.58 C182.33,674.40 184.72,675.96 185.98,677.22 C187.24,678.48 187.58,680.90 188.32,681.12 C189.06,681.34 189.53,678.52 190.40,678.52 C191.27,678.52 192.78,680.04 193.52,681.12 C194.26,682.20 193.95,684.59 194.82,685.02 C195.69,685.45 197.64,683.07 198.72,683.72 C199.80,684.37 200.24,687.71 201.32,688.92 C202.40,690.13 204.14,689.70 205.22,691.00 C206.30,692.30 207.39,695.77 207.82,696.72" style="stroke-dasharray:7 1.4;stroke-width:1.05"/>
<path class="l" d="M176.61,711.03 C177.48,711.51 179.64,713.24 181.81,713.89 C183.98,714.54 187.24,714.32 189.62,714.93 C192.00,715.54 193.95,716.84 196.12,717.53 C198.29,718.22 201.10,718.01 202.62,719.09 C204.14,720.17 204.35,722.34 205.22,724.03 C206.09,725.72 207.39,728.36 207.82,729.23" style="stroke-dasharray:7 1.4;stroke-width:1.05"/>
<path class="l" d="M218.22,687.62 C218.66,686.54 219.75,683.07 220.83,681.12 C221.92,679.17 223.21,677.44 224.73,675.92 C226.25,674.40 228.41,673.54 229.93,672.02 C231.45,670.50 233.18,667.68 233.83,666.81" style="stroke-dasharray:7 1.4;stroke-width:1.05"/>
<path class="l" d="M219.53,659.01 C219.75,657.71 219.75,653.38 220.83,651.21 C221.91,649.04 224.30,647.31 226.03,646.01 C227.76,644.71 230.36,643.84 231.23,643.41" style="stroke-dasharray:7 1.4;stroke-width:1.05"/>
<path class="l" d="M207.82,696.72 C208.47,697.80 210.85,701.05 211.72,703.22 C212.59,705.39 211.94,708.00 213.02,709.73 C214.10,711.47 217.35,712.98 218.22,713.63" style="stroke-dasharray:7 1.4;stroke-width:1.05"/>
<path class="l" d="M222.13,703.22 C222.78,702.57 224.51,700.19 226.03,699.32 C227.55,698.45 230.36,698.24 231.23,698.02" style="stroke-dasharray:7 1.4;stroke-width:1.05"/>
<path class="k" d="M409.2,692.4 C418,680 436,660 454,646 C468,636 480,630 491.5,625.6 L491.5,638.4 C478,643 466,648 454,656 C438,667 422,681 409.2,692.4 Z"/>
<path class="l" d="M530.95,612.07 A30.7,18.9 0 1 0 589.73,610.37"/>
<path class="l" d="M534.07,612.98 A28.0,16.4 0 1 0 587.39,610.89"/>
<path class="l" d="M589.73,610.37 C589.08,609.59 587.78,606.90 585.83,605.69 C583.88,604.48 579.75,603.61 578.02,603.09 C576.28,602.57 575.85,602.66 575.42,602.57" />
<path class="l" d="M587.39,610.89 C586.69,610.20 584.87,607.73 583.22,606.73 C581.57,605.73 578.80,605.26 577.50,604.91 C576.20,604.56 575.77,604.69 575.42,604.65" />
<path class="l" d="M530.95,612.07 C531.12,611.79 531.47,610.91 531.99,610.37 C532.51,609.83 533.72,609.07 534.07,608.81" />
<path class="l" d="M551.5,636.38 L551.5,641.58" />
<path class="l" d="M568.92,636.12 L568.92,641.58" />
<path class="l" d="M551.50,641.58 C553.32,646.53 567.62,646.53 568.92,641.58"/>
<path class="l" d="M505.20,599.97 C505.29,599.54 505.29,598.11 505.72,597.37 C506.15,596.63 507.45,595.85 507.80,595.55" />
<path class="l" d="M507.8,595.55 L550.98,568.76" />
<path class="l" d="M550.98,568.76 C551.59,568.65 553.32,567.76 554.62,568.11 C555.92,568.46 557.70,569.78 558.78,570.84 C559.86,571.90 560.30,572.49 561.12,574.48 C561.94,576.48 563.29,581.42 563.72,582.81" />
<path class="l" d="M505.20,599.97 C505.29,600.88 504.77,604.17 505.72,605.43 C506.67,606.69 509.49,607.25 510.92,607.51 C512.35,607.77 513.74,607.08 514.30,606.99" />
<path class="l" d="M514.30,606.99 C514.34,608.03 513.69,611.50 514.56,613.24 C515.43,614.98 517.90,616.71 519.51,617.40 C521.12,618.09 522.80,617.92 524.19,617.40 C525.58,616.88 526.57,615.32 527.83,614.28 C529.09,613.24 531.08,611.67 531.73,611.15" />
<path class="l" d="M508.06,599.45 L552.02,571.36" />
<path class="l" d="M552.02,571.36 C552.50,571.45 554.01,571.36 554.88,571.88 C555.75,572.40 556.83,574.05 557.22,574.48" />
<path class="l" d="M516.64,606.73 C517.12,606.90 518.99,606.64 519.51,607.77 C520.03,608.90 519.73,612.54 519.77,613.50" />
<ellipse class="l" cx="513.65" cy="600.75" rx="1.3" ry="1.8" transform="rotate(-25 513.65 600.75)" />
<ellipse class="l" cx="548.37" cy="581.25" rx="1.3" ry="1.8" transform="rotate(-25 548.37 581.25)" />
<ellipse class="l" cx="522.76" cy="613.5" rx="1.0" ry="1.5" transform="rotate(-25 522.76 613.5)" />
<path class="l" d="M563.72,582.81 C564.80,584.41 568.27,590.65 570.22,592.43 C572.17,594.21 574.55,593.30 575.42,593.47" />
<path class="l" d="M575.42,593.47 L575.42,601.01 L574.77,611.67" />
<path class="l" d="M552.02,582.55 C552.67,581.77 554.79,578.56 555.92,577.86 C557.05,577.16 558.30,578.29 558.78,578.38" />
<path class="l" d="M558.78,578.38 L568.92,592.69" />
<path class="l" d="M552.02,582.55 L552.02,585.93 L565.02,593.47" />
<path class="l" d="M540.31,591.39 C541.18,591.04 542.69,588.66 545.51,589.31 C548.33,589.96 553.32,593.99 557.22,595.29 C561.12,596.59 566.06,597.24 568.92,597.11 C571.78,596.98 573.47,594.94 574.38,594.51" />
<path class="l" d="M540.31,591.39 C540.57,591.95 539.49,593.17 541.87,594.77 C544.25,596.37 552.28,599.28 554.62,601.01 C556.96,602.74 555.70,604.48 555.92,605.17" />
<path class="l" d="M545.51,589.31 L552.02,585.93" />
<path class="l" d="M568.92,597.11 L569.7,604.91" />
<path class="l" d="M526.79,599.45 C526.88,598.63 526.57,595.85 527.31,594.51 C528.05,593.17 529.48,591.69 531.21,591.39 C532.94,591.09 535.87,591.61 537.71,592.69 C539.55,593.77 541.39,596.24 542.26,597.89 C543.13,599.54 542.80,601.79 542.91,602.57" />
<path class="l" d="M531.73,611.15 L534.07,608.81" />
<ellipse class="w" cx="537.97" cy="603.87" rx="4.2" ry="4.8" transform="rotate(-15 537.97 603.87)" />
<ellipse class="l" cx="537.97" cy="604.39" rx="2.4" ry="2.6" transform="rotate(0 537.97 604.39)" />
<ellipse class="l" cx="537.97" cy="604.39" rx="1.3" ry="1.5" transform="rotate(0 537.97 604.39)" />
<path class="l" d="M526.79,599.45 C526.96,599.97 527.09,601.75 527.83,602.57 C528.57,603.39 530.30,604.00 531.21,604.39 C532.12,604.78 532.94,604.82 533.29,604.91" />
<path class="l" d="M542.91,606.21 C543.78,606.90 546.16,609.15 548.11,610.37 C550.06,611.59 553.53,612.98 554.62,613.50" />
<path class="l" d="M555.92,605.17 C557.00,605.47 560.47,607.03 562.42,606.99 C564.37,606.95 566.75,605.26 567.62,604.91" />
<path class="l" d="M548.11,606.86 C548.59,607.45 549.68,609.61 550.98,610.37 C552.28,611.13 555.10,611.24 555.92,611.41" />
<ellipse class="w" cx="570.87" cy="608.81" rx="2.9" ry="4.2" transform="rotate(-20 570.87 608.81)" />
<ellipse class="l" cx="570.87" cy="609.07" rx="1.4" ry="2.0" transform="rotate(-20 570.87 609.07)" />
<path class="l" d="M567.62,604.91 C568.05,604.74 569.03,603.76 570.22,603.87 C571.41,603.98 574.01,605.28 574.77,605.56" />
<path class="w" d="M555.27,613.50 C556.25,611.90 559.06,611.68 560.47,612.20 C561.88,612.72 563.61,614.80 563.72,616.62 C563.83,618.44 562.29,621.60 561.12,623.12 C559.95,624.64 557.78,625.94 556.70,625.72 C555.62,625.50 554.86,623.86 554.62,621.82 C554.38,619.78 554.29,615.10 555.27,613.50 Z" />
<ellipse class="l" cx="559.56" cy="617.4" rx="1.4" ry="2.0" transform="rotate(-20 559.56 617.4)" />
<path class="l" d="M563.72,616.62 L568.92,612.98" />
<path class="l" d="M561.12,623.12 L565.02,617.92" />
<ellipse class="l" cx="560.94" cy="671.18" rx="29.8" ry="16.6" transform="rotate(0 560.94 671.18)" />
<ellipse class="l" cx="560.94" cy="671.78" rx="27.6" ry="14.8" transform="rotate(0 560.94 671.78)" />
<ellipse class="l" cx="560.94" cy="671.38" rx="22.0" ry="11.4" transform="rotate(0 560.94 671.38)" style="stroke-width:1.3"/>
<ellipse class="l" cx="560.94" cy="671.18" rx="10.8" ry="6.0" transform="rotate(0 560.94 671.18)" />
<ellipse class="l" cx="560.94" cy="671.5799999999999" rx="9.4" ry="5.0" transform="rotate(0 560.94 671.5799999999999)" />
<ellipse class="l" cx="576.2764002396874" cy="674.4710775183397" rx="1.3" ry="1.0" transform="rotate(0 576.2764002396874 674.4710775183397)" />
<ellipse class="l" cx="567.2925449772605" cy="679.1253639795971" rx="1.3" ry="1.0" transform="rotate(0 567.2925449772605 679.1253639795971)" />
<ellipse class="l" cx="554.5874550227396" cy="679.1253639795971" rx="1.3" ry="1.0" transform="rotate(0 554.5874550227396 679.1253639795971)" />
<ellipse class="l" cx="545.6035997603127" cy="674.4710775183397" rx="1.3" ry="1.0" transform="rotate(0 545.6035997603127 674.4710775183397)" />
<ellipse class="l" cx="545.6035997603127" cy="667.8889224816602" rx="1.3" ry="1.0" transform="rotate(0 545.6035997603127 667.8889224816602)" />
<ellipse class="l" cx="554.5874550227396" cy="663.2346360204028" rx="1.3" ry="1.0" transform="rotate(0 554.5874550227396 663.2346360204028)" />
<ellipse class="l" cx="567.2925449772606" cy="663.2346360204028" rx="1.3" ry="1.0" transform="rotate(0 567.2925449772606 663.2346360204028)" />
<ellipse class="l" cx="576.2764002396874" cy="667.8889224816602" rx="1.3" ry="1.0" transform="rotate(0 576.2764002396874 667.8889224816602)" />
<path class="l" d="M531.23,672.18 L531.23,722.58"/>
<path class="l" d="M590.85,672.18 L590.85,722.58"/>
<path class="l" d="M531.23,676.23 C535.03,695.19 586.85,695.19 590.85,676.23"/>
<path class="l" d="M531.23,714.15 C533.76,728.48 588.11,728.48 590.85,714.15"/>
<path class="l" d="M531.23,722.58 C532.08,726.37 534.18,727.63 537.13,729.32 C547.66,738.59 575.05,738.59 585.16,729.32"/>
<path class="l" d="M585.16,729.32 C588.53,727.21 590.22,725.53 590.85,722.58"/>
<path class="l" d="M535.03,718.37 L535.03,728.06" />
<path class="l" d="M539.66,720.89 L539.66,731.43" />
<path class="l" d="M545.56,723.0 L545.56,733.95" />
<path class="l" d="M551.88,724.26 L551.88,735.64" />
<path class="l" d="M558.2,724.9 L558.2,736.48" />
<path class="l" d="M564.52,724.9 L564.52,736.48" />
<path class="l" d="M570.84,724.26 L570.84,735.64" />
<path class="l" d="M577.16,722.79 L577.16,733.95" />
<path class="l" d="M582.63,720.89 L582.63,731.43" />
<path class="l" d="M587.27,718.37 L587.27,727.63" />
<path class="l" d="M374.32,724.64 L374.32,754.39"/>
<path class="l" d="M415.81,718.34 L415.81,754.11"/>
<path class="l" d="M405.08,710.62 C405.91,710.90 408.54,711.52 410.09,712.33 C411.64,713.14 413.43,714.43 414.38,715.48 C415.33,716.53 415.57,718.11 415.81,718.63" />
<path class="l" d="M406.08,712.62 C406.84,712.90 409.37,713.62 410.66,714.33 C411.95,715.05 413.14,716.05 413.81,716.91 C414.48,717.77 414.52,719.05 414.66,719.48" />
<path class="l" d="M374.32,752.10 C377.18,762.69 412.95,762.69 415.81,751.53"/>
<path class="l" d="M374.32,754.39 C374.61,758.40 376.32,759.54 378.04,760.69 C385.77,768.70 404.36,768.70 412.37,760.11"/>
<path class="l" d="M412.37,760.11 C414.38,758.40 415.52,756.97 415.81,754.11"/>
<path class="l" d="M378.04,755.54 L378.04,760.97" />
<path class="l" d="M381.76,757.54 L381.76,763.26" />
<path class="l" d="M386.05,758.68 L386.05,765.26" />
<path class="l" d="M390.63,759.4 L390.63,766.27" />
<path class="l" d="M395.21,759.69 L395.21,766.55" />
<path class="l" d="M399.79,759.4 L399.79,766.27" />
<path class="l" d="M404.36,758.54 L404.36,765.12" />
<path class="l" d="M408.66,757.25 L408.66,763.26" />
<path class="l" d="M412.37,755.39 L412.37,760.11" />
<path class="l" d="M374.32,724.64 C374.94,725.26 376.13,727.21 378.04,728.35 C379.95,729.49 383.29,730.69 385.77,731.50 C388.25,732.31 391.73,732.93 392.92,733.22" />
<path class="l" d="M375.46,726.92 C376.22,727.49 378.04,729.36 380.04,730.36 C382.04,731.36 385.43,732.31 387.48,732.93 C389.53,733.55 391.54,733.89 392.35,734.08" />
<path class="l" d="M357.50,710.38 C357.56,710.09 357.56,709.14 357.85,708.65 C358.14,708.16 359.00,707.64 359.23,707.44" />
<path class="l" d="M359.23,707.44 L387.94,689.63" />
<path class="l" d="M387.94,689.63 C388.34,689.56 389.50,688.96 390.36,689.19 C391.23,689.42 392.41,690.30 393.13,691.01 C393.85,691.72 394.14,692.10 394.69,693.43 C395.24,694.76 396.13,698.05 396.42,698.97" />
<path class="l" d="M357.50,710.38 C357.56,710.99 357.22,713.17 357.85,714.01 C358.49,714.85 360.36,715.23 361.31,715.40 C362.26,715.57 363.18,715.11 363.55,715.05" />
<path class="l" d="M363.55,715.05 C363.58,715.74 363.15,718.05 363.73,719.20 C364.31,720.35 365.94,721.51 367.01,721.97 C368.08,722.43 369.21,722.32 370.13,721.97 C371.05,721.62 371.72,720.58 372.55,719.89 C373.38,719.20 374.71,718.17 375.14,717.82" />
<path class="l" d="M359.4,710.04 L388.63,691.36" />
<path class="l" d="M388.63,691.36 C388.95,691.42 389.95,691.36 390.53,691.70 C391.11,692.05 391.83,693.14 392.09,693.43" />
<path class="l" d="M365.11,714.88 C365.43,715.00 366.66,714.82 367.01,715.57 C367.36,716.32 367.16,718.74 367.19,719.37" />
<ellipse class="l" cx="363.12" cy="710.9" rx="0.806" ry="1.116" transform="rotate(-25 363.12 710.9)" />
<ellipse class="l" cx="386.21" cy="697.93" rx="0.806" ry="1.116" transform="rotate(-25 386.21 697.93)" />
<ellipse class="l" cx="369.18" cy="719.37" rx="0.62" ry="0.9299999999999999" transform="rotate(-25 369.18 719.37)" />
<path class="l" d="M396.42,698.97 C397.14,700.04 399.44,704.19 400.74,705.37 C402.04,706.55 403.62,705.94 404.20,706.06" />
<path class="l" d="M404.2,706.06 L404.2,711.07 L403.77,718.16" />
<path class="l" d="M388.63,698.79 C389.06,698.27 390.48,696.14 391.23,695.68 C391.98,695.22 392.81,695.97 393.13,696.03" />
<path class="l" d="M393.13,696.03 L399.87,705.54" />
<path class="l" d="M388.63,698.79 L388.63,701.04 L397.28,706.06" />
<path class="l" d="M380.85,704.67 C381.43,704.44 382.44,702.86 384.31,703.29 C386.18,703.72 389.50,706.40 392.09,707.27 C394.68,708.13 397.97,708.57 399.87,708.48 C401.77,708.39 402.90,707.04 403.51,706.75" />
<path class="l" d="M380.85,704.67 C381.02,705.04 380.31,705.85 381.89,706.92 C383.47,707.99 388.80,709.92 390.36,711.07 C391.92,712.22 391.09,713.38 391.23,713.84" />
<path class="l" d="M384.31,703.29 L388.63,701.04" />
<path class="l" d="M399.87,708.48 L400.39,713.67" />
<path class="l" d="M371.86,710.04 C371.92,709.49 371.71,707.64 372.20,706.75 C372.69,705.86 373.65,704.87 374.80,704.67 C375.95,704.47 377.89,704.82 379.12,705.54 C380.35,706.26 381.57,707.90 382.15,709.00 C382.73,710.10 382.51,711.59 382.58,712.11" />
<path class="l" d="M375.14,717.82 L376.7,716.26" />
<ellipse class="w" cx="379.29" cy="712.98" rx="2.604" ry="2.976" transform="rotate(-15 379.29 712.98)" />
<ellipse class="l" cx="379.29" cy="713.32" rx="1.488" ry="1.612" transform="rotate(0 379.29 713.32)" />
<ellipse class="l" cx="379.29" cy="713.32" rx="0.806" ry="0.9299999999999999" transform="rotate(0 379.29 713.32)" />
<path class="l" d="M371.86,710.04 C371.98,710.38 372.06,711.56 372.55,712.11 C373.04,712.66 374.19,713.06 374.80,713.32 C375.41,713.58 375.95,713.61 376.18,713.67" />
<path class="l" d="M382.58,714.53 C383.16,714.99 384.74,716.49 386.04,717.30 C387.34,718.11 389.64,719.02 390.36,719.37" />
<path class="l" d="M391.23,713.84 C391.95,714.04 394.25,715.08 395.55,715.05 C396.85,715.02 398.43,713.90 399.01,713.67" />
<path class="l" d="M386.04,714.96 C386.36,715.35 387.07,716.79 387.94,717.30 C388.81,717.80 390.68,717.88 391.23,717.99" />
<ellipse class="w" cx="401.17" cy="716.26" rx="1.798" ry="2.604" transform="rotate(-20 401.17 716.26)" />
<ellipse class="l" cx="401.17" cy="716.43" rx="0.868" ry="1.24" transform="rotate(-20 401.17 716.43)" />
<path class="l" d="M399.01,713.67 C399.30,713.55 399.95,712.91 400.74,712.98 C401.53,713.05 403.26,713.91 403.77,714.10" />
<path class="w" d="M390.79,719.37 C391.44,718.30 393.31,718.16 394.25,718.51 C395.19,718.86 396.35,720.24 396.42,721.45 C396.49,722.66 395.47,724.76 394.69,725.77 C393.91,726.78 392.47,727.64 391.75,727.50 C391.03,727.36 390.52,726.26 390.36,724.91 C390.20,723.55 390.14,720.44 390.79,719.37 Z" />
<ellipse class="l" cx="393.65" cy="721.97" rx="0.868" ry="1.24" transform="rotate(-20 393.65 721.97)" />
<path class="l" d="M396.42,721.45 L399.87,719.03" />
<path class="l" d="M394.69,725.77 L397.28,722.31" />
<path class="l" d="M364.7,714.0 L396.4,734.4 L399.4,732.4" />
<path class="l" d="M374.30,727.00 C375.25,728.08 377.38,731.57 380.00,733.50 C382.62,735.43 386.92,737.48 390.00,738.60 C393.08,739.72 397.08,739.93 398.50,740.20" style="stroke-width:1.7"/>
<path class="w" d="M436.88,724.52 C436.99,722.71 437.36,720.70 438.48,719.72 C439.60,718.74 441.89,718.47 443.60,718.63 C445.31,718.79 447.55,719.27 448.72,720.68 C449.89,722.09 450.75,725.16 450.64,727.08 C450.53,729.00 449.47,731.19 448.08,732.20 C446.69,733.21 444.03,733.43 442.32,733.16 C440.61,732.89 438.75,732.04 437.84,730.60 C436.93,729.16 436.77,726.33 436.88,724.52 Z" />
<path class="w" d="M449.7720681848057,727.9889289172843 L445.55575956987883,732.1027696192781 L440.3836913850732,729.9138407019938 L439.42793181519437,723.6110710827156 L443.6442404301212,719.4972303807218 L448.81630861492687,721.6861592980061 Z" />
<ellipse class="l" cx="444.8" cy="726.0" rx="2.688" ry="3.3280000000000003" transform="rotate(0 444.8 726.0)" />
<ellipse class="l" cx="445.20000000000005" cy="726.1999999999999" rx="1.6" ry="2.176" transform="rotate(0 445.20000000000005 726.1999999999999)" />
</svg>
</body></html>
